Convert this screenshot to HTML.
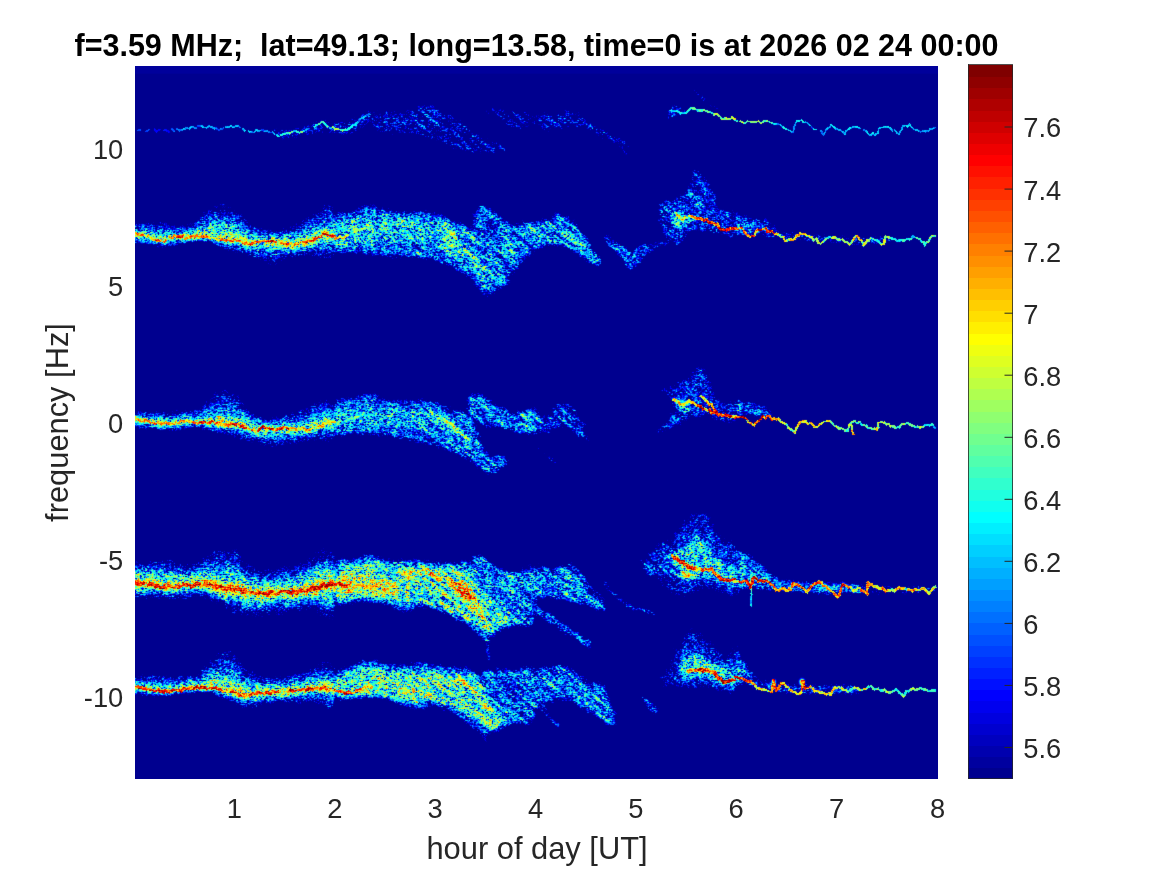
<!DOCTYPE html>
<html lang="en"><head><meta charset="utf-8"><title>Doppler spectrogram</title>
<style>
html,body{margin:0;padding:0;background:#fff;}
body{width:1167px;height:875px;overflow:hidden;position:relative;font-family:"Liberation Sans",Arial,Helvetica,sans-serif;}
svg{position:absolute;left:0;top:0;display:block;}
text{font-family:"Liberation Sans",Arial,Helvetica,sans-serif;}
.tk{font-size:27.3px;fill:#262626;}
.lb{font-size:30.85px;fill:#262626;}
.tt{font-size:30.5px;font-weight:bold;fill:#000;}
.l{mix-blend-mode:lighten;}
</style></head><body>
<svg width="1167" height="875" viewBox="0 0 1167 875">
<defs>
<filter id="b0_6" x="-5%" y="-5%" width="110%" height="110%" color-interpolation-filters="sRGB"><feGaussianBlur stdDeviation="0.6"/></filter>
<filter id="b1_0" x="-5%" y="-5%" width="110%" height="110%" color-interpolation-filters="sRGB"><feGaussianBlur stdDeviation="1.0"/></filter>
<filter id="b1_5" x="-5%" y="-5%" width="110%" height="110%" color-interpolation-filters="sRGB"><feGaussianBlur stdDeviation="1.5"/></filter>
<filter id="b1_8" x="-5%" y="-5%" width="110%" height="110%" color-interpolation-filters="sRGB"><feGaussianBlur stdDeviation="1.8"/></filter>
<filter id="b2_0" x="-5%" y="-5%" width="110%" height="110%" color-interpolation-filters="sRGB"><feGaussianBlur stdDeviation="2.0"/></filter>
<filter id="b2_5" x="-5%" y="-5%" width="110%" height="110%" color-interpolation-filters="sRGB"><feGaussianBlur stdDeviation="2.5"/></filter>
<filter id="b2_8" x="-5%" y="-5%" width="110%" height="110%" color-interpolation-filters="sRGB"><feGaussianBlur stdDeviation="2.8"/></filter>
<filter id="b3_0" x="-5%" y="-5%" width="110%" height="110%" color-interpolation-filters="sRGB"><feGaussianBlur stdDeviation="3.0"/></filter>
<filter id="spec" filterUnits="userSpaceOnUse" x="135" y="66" width="803" height="713" color-interpolation-filters="sRGB">
<feTurbulence type="fractalNoise" baseFrequency="1.5" numOctaves="1" seed="7" result="n0"/>
<feColorMatrix in="n0" type="matrix" values="1 0 0 0 0  1 0 0 0 0  1 0 0 0 0  0 0 0 0 1" result="n"/>
<feConvolveMatrix in="n" order="3" kernelMatrix="0.0187 0.0726 0.0187 0.1326 0.5148 0.1326 0.0187 0.0726 0.0187" edgeMode="duplicate" preserveAlpha="true" result="nb0"/>
<feComponentTransfer in="nb0" result="nb"><feFuncR type="linear" slope="1.8" intercept="-0.400"/><feFuncG type="linear" slope="1.8" intercept="-0.400"/><feFuncB type="linear" slope="1.8" intercept="-0.400"/></feComponentTransfer>
<feComponentTransfer in="nb" result="nm">
<feFuncR type="table" tableValues="0 0.07 0.264 0.443 0.579 0.693 0.771 0.85 0.911 0.95 0.97"/><feFuncG type="table" tableValues="0 0.07 0.264 0.443 0.579 0.693 0.771 0.85 0.911 0.95 0.97"/><feFuncB type="table" tableValues="0 0.07 0.264 0.443 0.579 0.693 0.771 0.85 0.911 0.95 0.97"/>
</feComponentTransfer>
<feColorMatrix in="SourceGraphic" type="matrix" values="1 0 0 0 0  1 0 0 0 0  1 0 0 0 0  0 0 0 0 1" result="d"/>
<feColorMatrix in="SourceGraphic" type="matrix" values="0 1 0 0 0  0 1 0 0 0  0 1 0 0 0  0 0 0 0 1" result="r"/>
<feColorMatrix in="SourceGraphic" type="matrix" values="0 0 1 0 0  0 0 1 0 0  0 0 1 0 0  0 0 0 0 1" result="m"/>
<feComposite in="d" in2="m" operator="arithmetic" k1="0" k2="0.600" k3="0.260" k4="0.070" result="dm"/>
<feComposite in="dm" in2="nm" operator="arithmetic" k1="0" k2="2.5" k3="1.45" k4="-2.035" result="td"/>
<feComposite in="r" in2="nb" operator="arithmetic" k1="1.1" k2="0.450" k3="0" k4="0" result="tr"/>
<feBlend in="td" in2="tr" mode="lighten" result="t"/>
<feComponentTransfer in="t" result="c">
<feFuncR type="discrete" tableValues="0.0000 0.0000 0.0000 0.0000 0.0000 0.0000 0.0000 0.0000 0.0000 0.0000 0.0000 0.0000 0.0000 0.0000 0.0000 0.0000 0.0000 0.0000 0.0000 0.0000 0.0000 0.0000 0.0000 0.0000 0.0625 0.1250 0.1875 0.2500 0.3125 0.3750 0.4375 0.5000 0.5625 0.6250 0.6875 0.7500 0.8125 0.8750 0.9375 1.0000 1.0000 1.0000 1.0000 1.0000 1.0000 1.0000 1.0000 1.0000 1.0000 1.0000 1.0000 1.0000 1.0000 1.0000 1.0000 1.0000 0.9375 0.8750 0.8125 0.7500 0.6875 0.6250 0.5625 0.5000"/>
<feFuncG type="discrete" tableValues="0.0000 0.0000 0.0000 0.0000 0.0000 0.0000 0.0000 0.0000 0.0625 0.1250 0.1875 0.2500 0.3125 0.3750 0.4375 0.5000 0.5625 0.6250 0.6875 0.7500 0.8125 0.8750 0.9375 1.0000 1.0000 1.0000 1.0000 1.0000 1.0000 1.0000 1.0000 1.0000 1.0000 1.0000 1.0000 1.0000 1.0000 1.0000 1.0000 1.0000 0.9375 0.8750 0.8125 0.7500 0.6875 0.6250 0.5625 0.5000 0.4375 0.3750 0.3125 0.2500 0.1875 0.1250 0.0625 0.0000 0.0000 0.0000 0.0000 0.0000 0.0000 0.0000 0.0000 0.0000"/>
<feFuncB type="discrete" tableValues="0.5625 0.6250 0.6875 0.7500 0.8125 0.8750 0.9375 1.0000 1.0000 1.0000 1.0000 1.0000 1.0000 1.0000 1.0000 1.0000 1.0000 1.0000 1.0000 1.0000 1.0000 1.0000 1.0000 1.0000 0.9375 0.8750 0.8125 0.7500 0.6875 0.6250 0.5625 0.5000 0.4375 0.3750 0.3125 0.2500 0.1875 0.1250 0.0625 0.0000 0.0000 0.0000 0.0000 0.0000 0.0000 0.0000 0.0000 0.0000 0.0000 0.0000 0.0000 0.0000 0.0000 0.0000 0.0000 0.0000 0.0000 0.0000 0.0000 0.0000 0.0000 0.0000 0.0000 0.0000"/>
</feComponentTransfer>
<feConvolveMatrix in="c" order="3" kernelMatrix="0.0081 0.0738 0.0081 0.0738 0.6724 0.0738 0.0081 0.0738 0.0081" edgeMode="duplicate" preserveAlpha="true"/>
</filter>
<filter id="mv" filterUnits="userSpaceOnUse" x="100" y="40" width="880" height="770" color-interpolation-filters="sRGB">
<feTurbulence type="fractalNoise" baseFrequency="0.17 0.06" numOctaves="2" seed="11"/>
<feColorMatrix type="matrix" values="0 0 0 0 0  0 0 0 0 0  0.5 0 0 0 0.25  0 0 0 0 1"/></filter>
<filter id="md" filterUnits="userSpaceOnUse" x="300" y="-600" width="450" height="1200" color-interpolation-filters="sRGB">
<feTurbulence type="fractalNoise" baseFrequency="0.05 0.2" numOctaves="2" seed="5"/>
<feColorMatrix type="matrix" values="0 0 0 0 0  0 0 0 0 0  1 0 0 0 0  0 0 0 0 1"/></filter>
<clipPath id="cd"><rect x="412" y="60" width="268" height="730"/></clipPath>
<clipPath id="pc"><rect x="135" y="66" width="803" height="713"/></clipPath>
</defs>
<rect width="1167" height="875" fill="#fff"/>
<g clip-path="url(#pc)"><g filter="url(#spec)">
<rect x="115" y="46" width="843" height="753" fill="#000"/>
<rect x="100" y="40" width="880" height="770" filter="url(#mv)"/>
<g clip-path="url(#cd)"><g transform="skewY(40)"><rect x="300" y="-600" width="450" height="1200" filter="url(#md)"/></g></g>
<g class="l" filter="url(#b3_0)" stroke="none">
<path class="l" d="M637.8 566.6C637.8 560.3 648.7 550.3 655 544.3C661.2 538.3 669.8 535.7 675.5 530.6C681.2 525.4 683.5 516.3 689.2 513.4C695 510.6 704.7 509.7 709.8 513.4C714.9 517.1 715.9 530.6 720.1 535.7C724.3 540.8 732.5 534.3 735 544.3C737.5 554.3 739.8 587.7 735 595.7C730.2 603.7 716.3 592.3 706.4 592.3C696.5 592.3 684.1 597.4 675.5 595.7C667 594 661.2 586.8 655 582C648.7 577.1 637.8 572.8 637.8 566.6Z" fill="#550000"/>
<path class="l" d="M658.4 680.1C657.8 674.4 668.1 663.6 672.1 656.1C676.1 648.7 679 640.7 682.4 635.6C685.8 630.4 688.7 625.3 692.7 625.3C696.7 625.3 701.2 631 706.4 635.6C711.5 640.1 718.7 650.4 723.5 652.7C728.3 655 733.1 642.4 735 649.3C736.9 656.1 739.8 687.3 735 693.8C730.2 700.4 716.3 689.3 706.4 688.7C696.5 688.1 683.5 691.8 675.5 690.4C667.5 689 659 685.8 658.4 680.1Z" fill="#550000"/>
</g>
<g class="l" filter="url(#b2_8)" stroke="none">
<path class="l" d="M335 216.6C337.9 210.6 346.4 214.8 352.1 213.1C357.9 211.4 363.6 206.6 369.3 206.3C375 206 380.7 210.3 386.4 211.4C392.1 212.6 397.3 212.8 403.6 213.1C409.8 213.4 417.8 212.6 424.1 213.1C430.4 213.7 436.1 214.8 441.3 216.6C446.4 218.3 450.4 221.4 455 223.4C459.5 225.4 464.4 224.8 468.7 228.6C473 232.3 475.8 240 480.7 245.7C485.5 251.4 493 257.7 497.8 262.8C502.7 268 511.2 271.4 509.8 276.5C508.4 281.7 494.7 292.5 489.2 293.7C483.8 294.8 481.2 286.8 477.2 283.4C473.2 280 470.4 276.5 465.2 273.1C460.1 269.7 452.4 265.4 446.4 262.8C440.4 260.3 436.4 258.8 429.3 257.7C422.1 256.5 412.1 256.5 403.6 256C395 255.4 386.4 255.1 377.8 254.3C369.3 253.4 359.3 251.7 352.1 250.8C345 250 337.9 254.8 335 249.1C332.1 243.4 332.1 222.6 335 216.6Z" fill="#7e0000" stroke="#7e0000" stroke-width="5" stroke-linejoin="round"/>
<path class="l" d="M335 223.4C339.3 219.1 352.1 220.8 360.7 220C369.3 219.1 376.4 218.6 386.4 218.3C396.4 218 410.7 217.4 420.7 218.3C430.7 219.1 439 219.7 446.4 223.4C453.8 227.1 460.4 235.1 465.2 240.5C470.1 246 472.1 251.1 475.5 256C479 260.8 486.4 267.4 485.8 269.7C485.2 272 477.2 272 472.1 269.7C467 267.4 460.7 260 455 256C449.3 252 445 248.5 437.8 245.7C430.7 242.8 420.7 239.7 412.1 238.8C403.6 238 395 239.7 386.4 240.5C377.8 241.4 369.3 243.1 360.7 244C352.1 244.8 339.3 249.1 335 245.7C330.7 242.3 330.7 227.7 335 223.4Z" fill="#920000" stroke="#920000" stroke-width="3" stroke-linejoin="round"/>
<path class="l" d="M477.2 209.7C479 206 480.7 205.1 484.1 206.3C487.5 207.4 492.7 213.4 497.8 216.6C503 219.7 508.8 224 514.9 225.1C521.1 226.3 531.7 219.4 535 223.4C538.3 227.4 536.9 243.1 535 249.1C533.1 255.1 526.9 256 523.5 259.4C520.2 262.8 518.9 266.3 514.9 269.7C510.9 273.1 503.8 276 499.5 280C495.2 284 492.4 291.7 489.2 293.7C486.1 295.7 483.5 297.1 480.7 292C477.8 286.8 474.1 272.8 472.1 262.8C470.1 252.8 468.4 237.7 468.7 232C469 226.3 472.4 232.3 473.8 228.6C475.2 224.8 475.5 213.4 477.2 209.7Z" fill="#810000" stroke="#810000" stroke-width="4" stroke-linejoin="round"/>
<path class="l" d="M535 223.4C537.3 218.3 544.4 220 548.7 218.3C553 216.6 555.9 212 560.7 213.1C565.6 214.3 573.6 221.1 577.8 225.1C582.1 229.1 583.6 232.8 586.4 237.1C589.3 241.4 592.1 246.5 595 250.8C597.8 255.1 603.6 260.3 603.6 262.8C603.6 265.4 598.4 266.8 595 266.3C591.6 265.7 587.3 262.3 583 259.4C578.7 256.5 574.4 251.4 569.3 249.1C564.1 246.8 557.9 245.7 552.1 245.7C546.4 245.7 537.9 252.8 535 249.1C532.1 245.4 532.7 228.6 535 223.4Z" fill="#880000"/>
<path class="l" d="M668.7 211.4C670.7 209.1 677.2 209.4 680.7 209.7C684.1 210 686.1 212.3 689.2 213.1C692.4 214 699.5 212.3 699.5 214.8C699.5 217.4 693.2 225.7 689.2 228.6C685.2 231.4 679 232.8 675.5 232C672.1 231.1 669.8 226.8 668.7 223.4C667.5 220 666.7 213.7 668.7 211.4Z" fill="#990000"/>
<path class="l" d="M735 211.4C737.3 208.3 743.6 215.4 748.7 216.6C753.9 217.7 761.3 216.6 765.8 218.3C770.4 220 775.6 224.3 776.1 226.8C776.7 229.4 773.3 232.3 769.3 233.7C765.3 235.1 757.9 235.1 752.1 235.4C746.4 235.7 737.9 239.4 735 235.4C732.1 231.4 732.7 214.6 735 211.4Z" fill="#770000"/>
<path class="l" d="M335 403.1C337.9 397.7 346.4 401.1 352.1 399.7C357.9 398.3 363.6 394.3 369.3 394.6C375 394.8 380.7 400.3 386.4 401.4C392.1 402.6 397.3 401.4 403.6 401.4C409.8 401.4 417.8 400.8 424.1 401.4C430.4 402 436.1 403.4 441.3 404.8C446.4 406.3 450.1 407.7 455 410C459.8 412.3 466.7 414.3 470.4 418.6C474.1 422.8 475 430 477.2 435.7C479.5 441.4 480.7 449.4 484.1 452.8C487.5 456.3 494.1 454.8 497.8 456.3C501.5 457.7 507.8 458.5 506.4 461.4C505 464.3 493.5 472.5 489.2 473.4C485 474.3 484.7 469.4 480.7 466.5C476.7 463.7 471 459.1 465.2 456.3C459.5 453.4 452.4 451.7 446.4 449.4C440.4 447.1 436.4 444.5 429.3 442.5C422.1 440.5 412.1 438.8 403.6 437.4C395 436 386.4 434.8 377.8 434C369.3 433.1 359.3 432.5 352.1 432.3C345 432 337.9 437.1 335 432.3C332.1 427.4 332.1 408.6 335 403.1Z" fill="#7a0000" stroke="#7a0000" stroke-width="5" stroke-linejoin="round"/>
<path class="l" d="M335 413.4C339.3 410.3 352.1 410.8 360.7 410C369.3 409.1 376.4 408.6 386.4 408.3C396.4 408 411.5 407.4 420.7 408.3C429.8 409.1 435 410.8 441.3 413.4C447.5 416 453.3 418.8 458.4 423.7C463.5 428.5 471 438.5 472.1 442.5C473.2 446.5 468.7 448 465.2 447.7C461.8 447.4 456.1 443.4 451.5 440.8C447 438.3 444.4 434.8 437.8 432.3C431.3 429.7 420.7 426.3 412.1 425.4C403.6 424.6 395 426.5 386.4 427.1C377.8 427.7 369.3 428.5 360.7 428.8C352.1 429.1 339.3 431.4 335 428.8C330.7 426.3 330.7 416.6 335 413.4Z" fill="#8d0000" stroke="#8d0000" stroke-width="3" stroke-linejoin="round"/>
<path class="l" d="M468.7 398C470.1 394.6 475.8 393.1 480.7 394.6C485.5 396 492.1 403.4 497.8 406.6C503.5 409.7 508.8 412.8 514.9 413.4C521.1 414 531.7 407.1 535 410C538.3 412.8 537.5 426.8 535 430.5C532.5 434.3 524.9 432.5 520.1 432.3C515.3 432 510.9 430 506.4 428.8C501.8 427.7 497 426.5 492.7 425.4C488.4 424.3 484.1 423.7 480.7 422C477.2 420.3 474.1 419.1 472.1 415.1C470.1 411.1 467.2 401.4 468.7 398Z" fill="#810000" stroke="#810000" stroke-width="4" stroke-linejoin="round"/>
<path class="l" d="M477.2 442.5C478.7 440.3 484.4 450 489.2 452.8C494.1 455.7 504.1 457.1 506.4 459.7C508.7 462.3 505.8 466 503 468.3C500.1 470.5 493 473.7 489.2 473.4C485.5 473.1 482.7 471.7 480.7 466.5C478.7 461.4 475.8 444.8 477.2 442.5Z" fill="#800000"/>
<path class="l" d="M535 411.7C536.7 408.6 541.3 416.8 545.3 415.1C549.3 413.4 554.4 402.6 559 401.4C563.6 400.3 568.4 404.8 572.7 408.3C577 411.7 582.1 416.8 584.7 422C587.3 427.1 589.3 436.5 588.1 439.1C587 441.7 581.6 439.4 577.8 437.4C574.1 435.4 570.1 428 565.8 427.1C561.6 426.3 557.3 431.1 552.1 432.3C547 433.4 537.9 437.4 535 434C532.1 430.5 533.3 414.8 535 411.7Z" fill="#6e0000"/>
<path class="l" d="M672.1 396.3C674.1 394.8 682.1 396.8 685.8 398C689.5 399.1 693.8 400.3 694.4 403.1C695 406 691.8 413.1 689.2 415.1C686.7 417.1 681.5 416.6 679 415.1C676.4 413.7 675 409.7 673.8 406.6C672.7 403.4 670.1 397.7 672.1 396.3Z" fill="#960000"/>
<path class="l" d="M735 399.7C737.3 397.1 743.6 400.3 748.7 401.4C753.9 402.6 761.6 404.3 765.8 406.6C770.1 408.8 774.4 413.1 774.4 415.1C774.4 417.1 770.1 418.3 765.8 418.6C761.6 418.8 753.9 417.1 748.7 416.8C743.6 416.6 737.3 419.7 735 416.8C732.7 414 732.7 402.3 735 399.7Z" fill="#770000"/>
<path class="l" d="M335 561.4C337.9 553.7 346.4 559.4 352.1 558C357.9 556.6 363.6 552.6 369.3 552.8C375 553.1 380.1 558.8 386.4 559.7C392.7 560.6 400.7 558 407 558C413.3 558 418.4 559.1 424.1 559.7C429.8 560.3 434.7 561.4 441.3 561.4C447.8 561.4 456.7 561.1 463.5 559.7C470.4 558.3 477.5 552.3 482.4 552.8C487.2 553.4 488.7 560.3 492.7 563.1C496.7 566 501.2 569.1 506.4 570C511.5 570.8 518.7 568.6 523.5 568.3C528.3 568 533.1 559.1 535 568.3C536.9 577.4 536.9 613.4 535 623.1C533.1 632.8 528.3 625.7 523.5 626.5C518.7 627.4 511.2 626.8 506.4 628.3C501.5 629.7 497.2 632.8 494.4 635.1C491.5 637.4 491.2 641.1 489.2 642C487.2 642.8 485.2 642.2 482.4 640.2C479.5 638.2 476.7 633.4 472.1 630C467.5 626.5 460.7 622.8 455 619.7C449.3 616.5 443.5 613.1 437.8 611.1C432.1 609.1 426.4 607.4 420.7 607.7C415 608 409.3 613.1 403.6 612.8C397.8 612.5 393.6 607.7 386.4 606C379.3 604.3 369.3 602.8 360.7 602.5C352.1 602.3 339.3 611.1 335 604.3C330.7 597.4 332.1 569.1 335 561.4Z" fill="#800000"/>
<path class="l" d="M335 570C339.3 564 352.1 564.3 360.7 563.1C369.3 562 377.8 562.8 386.4 563.1C395 563.4 403.6 564.3 412.1 564.8C420.7 565.4 429.3 565.7 437.8 566.6C446.4 567.4 457 567.7 463.5 570C470.1 572.3 473.5 576 477.2 580.3C481 584.6 482.1 590.5 485.8 595.7C489.5 600.8 495.5 607.1 499.5 611.1C503.5 615.1 510.4 616.8 509.8 619.7C509.2 622.5 500.7 626.5 496.1 628.3C491.5 630 487.5 631.7 482.4 630C477.2 628.3 471.2 621.1 465.2 618C459.3 614.8 452.4 613.4 446.4 611.1C440.4 608.8 436.4 605.7 429.3 604.3C422.1 602.8 412.1 603.4 403.6 602.5C395 601.7 386.4 600 377.8 599.1C369.3 598.3 359.3 597.4 352.1 597.4C345 597.4 337.9 603.7 335 599.1C332.1 594.5 330.7 576 335 570Z" fill="#a30000"/>
<path class="l" d="M335 576.8C338.4 574 348.4 576.3 355.6 576.8C362.7 577.4 370.4 579.1 377.8 580.3C385.3 581.4 398.7 581.1 400.1 583.7C401.6 586.3 393 594 386.4 595.7C379.8 597.4 369.3 594.3 360.7 594C352.1 593.7 339.3 596.8 335 594C330.7 591.1 331.6 579.7 335 576.8Z" fill="#be0000"/>
<path class="l" d="M492.7 566.6C495.5 563.1 499.3 570.6 506.4 571.7C513.4 572.8 530.2 565.4 535 573.4C539.8 581.4 538.3 611.4 535 619.7C531.7 628 520.9 624.8 514.9 623.1C509 621.4 503.8 614.5 499.5 609.4C495.2 604.3 490.4 599.4 489.2 592.3C488.1 585.1 489.8 570 492.7 566.6Z" fill="#830000"/>
<path class="l" d="M535 568.3C537.9 563.4 546.4 567.4 552.1 566.6C557.9 565.7 564.1 562 569.3 563.1C574.4 564.3 579.3 569.4 583 573.4C586.7 577.4 588.1 582.8 591.6 587.1C595 591.4 601 595.4 603.6 599.1C606.1 602.8 608.4 607.4 607 609.4C605.6 611.4 599 611.7 595 611.1C591 610.5 587.3 607.4 583 606C578.7 604.5 574.4 603.7 569.3 602.5C564.1 601.4 557.9 600.3 552.1 599.1C546.4 598 537.9 600.8 535 595.7C532.1 590.5 532.1 573.1 535 568.3Z" fill="#810000"/>
<path class="l" d="M672.1 554.6C673.5 549.4 681.5 547.4 685.8 544.3C690.1 541.1 693.8 535.1 697.8 535.7C701.8 536.3 705.5 543.4 709.8 547.7C714.1 552 719.3 558.3 723.5 561.4C727.7 564.6 733.1 562.6 735 566.6C736.9 570.6 737.5 582.8 735 585.4C732.5 588 725.4 583.1 720.1 582C714.7 580.8 708.1 578.6 703 578.6C697.8 578.6 693.5 582.6 689.2 582C685 581.4 680.1 579.7 677.2 575.1C674.4 570.6 670.7 559.7 672.1 554.6Z" fill="#960000"/>
<path class="l" d="M735 549.4C736.7 543.1 741.6 551.1 745.3 552.8C749 554.6 753.3 556.6 757.3 559.7C761.3 562.8 765.6 568.6 769.3 571.7C773 574.8 779.6 576.3 779.6 578.6C779.6 580.8 773.8 584 769.3 585.4C764.7 586.8 757.9 586.3 752.1 587.1C746.4 588 737.9 596.8 735 590.5C732.1 584.3 733.3 555.7 735 549.4Z" fill="#830000"/>
<path class="l" d="M335 671.6C337.9 665.8 346.4 667 352.1 664.7C357.9 662.4 363.6 658.1 369.3 657.8C375 657.6 380.1 662.1 386.4 663C392.7 663.8 400.7 663.3 407 663C413.3 662.7 418.4 661 424.1 661.3C429.8 661.6 434.7 663.8 441.3 664.7C447.8 665.6 457 665.3 463.5 666.4C470.1 667.6 475 671.3 480.7 671.6C486.4 671.8 492.1 668.4 497.8 668.1C503.5 667.8 508.8 669.8 514.9 669.8C521.1 669.8 531.7 659.6 535 668.1C538.3 676.7 536.9 711.8 535 721.3C533.1 730.7 528.3 723.5 523.5 724.7C518.7 725.8 511.5 726.4 506.4 728.1C501.2 729.8 495.8 732.7 492.7 735C489.5 737.3 489.5 741.8 487.5 741.8C485.5 741.8 483.2 737.5 480.7 735C478.1 732.4 476.4 729.5 472.1 726.4C467.8 723.3 460.7 719.3 455 716.1C449.3 713 443.5 708.4 437.8 707.5C432.1 706.7 426.4 711 420.7 711C415 711 409.3 709.3 403.6 707.5C397.8 705.8 393.6 702.1 386.4 700.7C379.3 699.3 369.3 699.3 360.7 699C352.1 698.7 339.3 703.5 335 699C330.7 694.4 332.1 677.3 335 671.6Z" fill="#7a0000"/>
<path class="l" d="M335 680.1C339.3 675.6 352.1 669.8 360.7 668.1C369.3 666.4 377.8 669.6 386.4 669.8C395 670.1 403.6 669.6 412.1 669.8C420.7 670.1 429.3 670.7 437.8 671.6C446.4 672.4 456.4 673 463.5 675C470.7 677 476.4 679.8 480.7 683.6C485 687.3 486.1 692.7 489.2 697.3C492.4 701.8 496.7 707 499.5 711C502.4 715 507.2 718.4 506.4 721.3C505.5 724.1 498.4 727.3 494.4 728.1C490.4 729 487.2 728.7 482.4 726.4C477.5 724.1 471.2 717.5 465.2 714.4C459.3 711.3 452.4 709.8 446.4 707.5C440.4 705.3 436.4 701.8 429.3 700.7C422.1 699.5 412.1 701.5 403.6 700.7C395 699.8 386.4 696.1 377.8 695.5C369.3 695 359.3 697.3 352.1 697.3C345 697.3 337.9 698.4 335 695.5C332.1 692.7 330.7 684.7 335 680.1Z" fill="#a30000"/>
<path class="l" d="M535 671.6C537.9 664.4 546.4 665.6 552.1 664.7C557.9 663.8 563.6 664.1 569.3 666.4C575 668.7 580.7 675.6 586.4 678.4C592.1 681.3 599.6 679.8 603.6 683.6C607.6 687.3 608.1 694.4 610.4 700.7C612.7 707 617.8 717 617.3 721.3C616.7 725.5 610.7 727 607 726.4C603.3 725.8 599.8 721 595 717.8C590.1 714.7 583.6 710.4 577.8 707.5C572.1 704.7 566.1 701.3 560.7 700.7C555.3 700.1 549.6 703 545.3 704.1C541 705.3 536.7 713 535 707.5C533.3 702.1 532.1 678.7 535 671.6Z" fill="#800000"/>
<path class="l" d="M677.2 666.4C677.8 662.1 685.5 658.4 689.2 656.1C693 653.8 695.2 651.6 699.5 652.7C703.8 653.8 709 660.7 714.9 663C720.9 665.3 731.7 662.4 735 666.4C738.3 670.4 737.5 683.8 735 687C732.5 690.1 725.4 686.7 720.1 685.3C714.7 683.8 708.7 679 703 678.4C697.2 677.8 690.1 683.8 685.8 681.8C681.5 679.8 676.7 670.7 677.2 666.4Z" fill="#990000"/>
<path class="l" d="M735 645.8C736.1 641 739.6 651 741.9 654.4C744.1 657.8 746.1 662.7 748.7 666.4C751.3 670.1 757.3 674.1 757.3 676.7C757.3 679.3 752.4 680.7 748.7 681.8C745 683 737.3 689.6 735 683.6C732.7 677.6 733.9 650.7 735 645.8Z" fill="#800000"/>
</g>
<g class="l" filter="url(#b2_5)" stroke="none">
<path class="l" d="M369.3 112.3C375 110 394.4 110.3 403.6 108.8C412.7 107.4 415.5 102.6 424.1 103.7C432.7 104.8 445.5 110.6 455 115.7C464.4 120.8 471.5 129.4 480.7 134.6C489.8 139.7 505.5 143.7 509.8 146.5C514.1 149.4 513.2 150.5 506.4 151.7C499.5 152.8 480.1 155.1 468.7 153.4C457.3 151.7 448.7 144.5 437.8 141.4C427 138.3 413.5 135.7 403.6 134.6C393.6 133.4 383.6 136.6 377.8 134.6C372.1 132.6 370.7 126.3 369.3 122.6C367.8 118.8 363.6 114.6 369.3 112.3Z" fill="#5e0000"/>
<path class="l" d="M480.7 107.1C482.1 105.7 497.3 107.4 506.4 108.8C515.4 110.3 530.2 113.4 535 115.7C539.8 118 538.3 120 535 122.6C531.7 125.1 521.1 132 514.9 131.1C508.8 130.3 503.5 121.4 497.8 117.4C492.1 113.4 479.2 108.6 480.7 107.1Z" fill="#580000"/>
<path class="l" d="M535 115.7C538.4 112.8 548.7 111.7 555.6 110.6C562.4 109.4 570.1 106.8 576.1 108.8C582.1 110.8 585.6 118.8 591.6 122.6C597.6 126.3 606.4 128 612.1 131.1C617.8 134.3 623 137.1 625.8 141.4C628.7 145.7 630.7 156 629.3 156.8C627.8 157.7 622.1 150 617.3 146.5C612.4 143.1 606.7 139.4 600.1 136.3C593.6 133.1 585.8 128.6 577.8 127.7C569.8 126.8 559.3 131.1 552.1 131.1C545 131.1 537.9 130.3 535 127.7C532.1 125.1 531.6 118.6 535 115.7Z" fill="#5c0000"/>
<path class="l" d="M658.4 202.8C660.4 197.7 667 200.6 672.1 197.7C677.2 194.8 685.8 190.6 689.2 185.7C692.7 180.9 689.8 170 692.7 168.6C695.5 167.1 702.7 172.9 706.4 177.1C710.1 181.4 712.1 189.1 714.9 194.3C717.8 199.4 720.2 205.1 723.5 208C726.9 210.8 733.1 206.3 735 211.4C736.9 216.6 737.5 234.8 735 238.8C732.5 242.8 724.9 236.5 720.1 235.4C715.3 234.3 711.5 232 706.4 232C701.2 232 693.5 233.1 689.2 235.4C685 237.7 684.1 244 680.7 245.7C677.2 247.4 672.1 248.5 668.7 245.7C665.2 242.8 661.8 235.7 660.1 228.6C658.4 221.4 656.4 208 658.4 202.8Z" fill="#6d0000"/>
<path class="l" d="M658.4 387.7C658.4 384.8 667 386.3 672.1 384.3C677.2 382.3 684.7 379.1 689.2 375.7C693.8 372.3 696.1 363.7 699.5 363.7C703 363.7 707.2 370.9 709.8 375.7C712.4 380.6 712.7 388.6 714.9 392.8C717.2 397.1 720.2 400 723.5 401.4C726.9 402.8 733.1 397.7 735 401.4C736.9 405.1 737.5 420.3 735 423.7C732.5 427.1 724.9 423.1 720.1 422C715.3 420.8 711.5 417.4 706.4 416.8C701.2 416.3 693.5 417.1 689.2 418.6C685 420 684.1 423.7 680.7 425.4C677.2 427.1 672.4 427.1 668.7 428.8C665 430.5 660.7 435.4 658.4 435.7C656.1 436 653.3 433.4 655 430.5C656.7 427.7 665.8 423.4 668.7 418.6C671.5 413.7 673.8 406.6 672.1 401.4C670.4 396.3 658.4 390.6 658.4 387.7Z" fill="#6b0000"/>
<path class="l" d="M655 549.4C658.7 544.6 664.4 547.1 668.7 544.3C673 541.4 676.7 536.6 680.7 532.3C684.7 528 688.4 521.1 692.7 518.6C697 516 702.7 514.9 706.4 516.9C710.1 518.9 712.1 526 714.9 530.6C717.8 535.1 720.2 541.1 723.5 544.3C726.9 547.4 733.1 541.4 735 549.4C736.9 557.4 736.9 585.4 735 592.3C733.1 599.1 727.7 592 723.5 590.5C719.3 589.1 715.5 583.7 709.8 583.7C704.1 583.7 695.5 589.4 689.2 590.5C683 591.7 676.4 593.1 672.1 590.5C667.8 588 667.8 578 663.5 575.1C659.3 572.3 647.8 577.7 646.4 573.4C645 569.1 651.3 554.3 655 549.4Z" fill="#6d0000"/>
<path class="l" d="M668.7 669.8C671 665 674.4 662.1 677.2 657.8C680.1 653.6 683.8 648.4 685.8 644.1C687.8 639.9 687 633 689.2 632.1C691.5 631.3 696.1 636.1 699.5 639C703 641.8 705.8 645.8 709.8 649.3C713.8 652.7 719.3 658.4 723.5 659.6C727.7 660.7 733.1 651.3 735 656.1C736.9 661 736.9 683.3 735 688.7C733.1 694.1 728.3 689.6 723.5 688.7C718.7 687.8 712.1 684.1 706.4 683.6C700.7 683 694.4 685.3 689.2 685.3C684.1 685.3 679.8 683.3 675.5 683.6C671.2 683.8 664.7 689.3 663.5 687C662.4 684.7 666.4 674.7 668.7 669.8Z" fill="#6d0000"/>
</g>
<g class="l" filter="url(#b2_0)" stroke="none">
<path class="l" d="M769.3 233.7C775 234.3 792.1 236.1 803.6 237.1C815 238.1 823.5 239.1 837.8 239.7C852.1 240.3 880.7 240.4 889.2 240.5" fill="none" stroke="#5f0000" stroke-width="10" stroke-linecap="round"/>
<path class="l" d="M760.7 583.7C767.8 584.3 787.8 586.3 803.6 587.1C819.3 588 846.4 588.5 855 588.8" fill="none" stroke="#7e0000" stroke-width="13" stroke-linecap="round"/>
<path class="l" d="M855 588.8C860.7 589 875.9 589.7 889.2 589.7C902.6 589.7 927.4 589 935 588.8" fill="none" stroke="#550000" stroke-width="10" stroke-linecap="round"/>
<path class="l" d="M752.1 683.6C757.9 684.4 769.3 687.7 786.4 688.7C803.6 689.7 843.5 689.4 855 689.6" fill="none" stroke="#690000" stroke-width="12" stroke-linecap="round"/>
</g>
<g class="l" filter="url(#b1_8)" stroke="none">
<path class="l" d="M444.7 580.3C445.8 578.6 453.8 579.1 458.4 580.3C463 581.4 469.2 584 472.1 587.1C475 590.3 477.2 597.1 475.5 599.1C473.8 601.1 465.8 600.5 461.8 599.1C457.8 597.7 454.4 593.7 451.5 590.5C448.7 587.4 443.5 582 444.7 580.3Z" fill="#d40000"/>
</g>
<g class="l" filter="url(#b1_5)" stroke="none">
<path class="l" d="M268.7 129.4C270.1 127.4 283 128.6 289.2 127.7C295.5 126.8 300.7 125.7 306.4 124.3C312.1 122.8 318.7 119.4 323.5 119.1C328.3 118.8 333.1 120.3 335 122.6C336.9 124.8 339.8 130.6 335 132.8C330.2 135.1 315.4 135.1 306.4 136.3C297.3 137.4 287 140.8 280.7 139.7C274.4 138.6 267.2 131.4 268.7 129.4Z" fill="#550000"/>
<path class="l" d="M335 122.6C337.9 119.7 346.4 119.4 352.1 117.4C357.9 115.4 366.4 109.7 369.3 110.6C372.1 111.4 372.1 118.6 369.3 122.6C366.4 126.6 357.9 132.6 352.1 134.6C346.4 136.6 337.9 136.6 335 134.6C332.1 132.6 332.1 125.4 335 122.6Z" fill="#5e0000"/>
<path class="l" d="M670.4 105.4C673.5 103.1 682.7 107.4 685.8 108.8C689 110.3 691.5 112.6 689.2 114C687 115.4 675.8 116 672.1 117.4C668.4 118.8 667.2 124.6 667 122.6C666.7 120.6 667.2 107.7 670.4 105.4Z" fill="#660000"/>
<path class="l" d="M692.7 88.3C694.7 90.3 700.7 96.8 704.7 100.3C708.7 103.7 714.7 107.4 716.7 108.8" fill="none" stroke="#550000" stroke-width="5" stroke-linecap="round"/>
<path class="l" d="M129 222.1 L145.3 221 L155.6 220.2 L164.1 221.3 L174.4 224.2 L184.7 223.8 L195 217.9 L207 206.9 L215.5 201.9 L225.8 201 L237.8 205.8 L248.1 219.9 L256.7 225.2 L267 228.5 L275.5 228.9 L285.8 225.8 L292.7 223.4 L303 219.5 L311.5 212.9 L316.7 209.9 L325.2 202.9 L335 205.5 L335 261.7 L325.2 260.4 L316.7 258.6 L311.5 257 L303 258.3 L292.7 258.2 L285.8 260 L275.5 266.3 L267 264.6 L256.7 260 L248.1 256 L237.8 253.9 L225.8 250.7 L215.5 248.2 L207 242.9 L195 243 L184.7 244.6 L174.4 247 L164.1 248.6 L155.6 248.5 L145.3 247 L129 244.9Z" fill="#4e0000"/>
<path class="l" d="M129 224.6 L145.3 224.5 L155.6 224.7 L164.1 225.7 L174.4 227 L184.7 226.8 L195 222.3 L207 213.6 L215.5 210.5 L225.8 210.1 L237.8 213.8 L248.1 225.5 L256.7 229.3 L267 231.3 L275.5 232 L285.8 230 L292.7 228.4 L303 224.8 L311.5 219.6 L316.7 216.4 L325.2 210 L335 212.6 L335 255.8 L325.2 254.3 L316.7 253.8 L311.5 253.6 L303 254.6 L292.7 255.1 L285.8 256.3 L275.5 260.8 L267 259.1 L256.7 256.1 L248.1 253.2 L237.8 250.8 L225.8 248.4 L215.5 246 L207 241.4 L195 241.6 L184.7 242.9 L174.4 244.5 L164.1 246.7 L155.6 246.5 L145.3 244.5 L129 242.1Z" fill="#660000"/>
<path class="l" d="M129 226.3 L145.3 226.9 L155.6 227.7 L164.1 228.7 L174.4 228.9 L184.7 228.9 L195 225.3 L207 218.2 L215.5 216.1 L225.8 216.2 L237.8 219.2 L248.1 229.2 L256.7 232.1 L267 233.1 L275.5 234 L285.8 232.8 L292.7 231.7 L303 228.3 L311.5 224.2 L316.7 220.7 L325.2 214.8 L335 217.3 L335 251.9 L325.2 250.1 L316.7 250.6 L311.5 251.3 L303 252.1 L292.7 253.1 L285.8 253.8 L275.5 257.1 L267 255.4 L256.7 253.5 L248.1 251.4 L237.8 248.8 L225.8 246.8 L215.5 244.6 L207 240.4 L195 240.7 L184.7 241.7 L174.4 242.8 L164.1 245.5 L155.6 245.1 L145.3 242.8 L129 240.2Z" fill="#7c0000"/>
<path class="l" d="M129 228.3 L145.3 229.8 L155.6 231.4 L164.1 232.4 L174.4 231.2 L184.7 231.5 L195 229 L207 223.8 L215.5 223.2 L225.8 223.8 L237.8 225.8 L248.1 233.8 L256.7 235.5 L267 235.5 L275.5 236.6 L285.8 236.3 L292.7 235.8 L303 232.6 L311.5 229.8 L316.7 226.1 L325.2 220.7 L335 223.3 L335 247 L325.2 245 L316.7 246.7 L311.5 248.5 L303 249 L292.7 250.5 L285.8 250.8 L275.5 252.4 L267 250.7 L256.7 250.2 L248.1 249.1 L237.8 246.2 L225.8 244.8 L215.5 242.8 L207 239.1 L195 239.6 L184.7 240.3 L174.4 240.8 L164.1 243.9 L155.6 243.4 L145.3 240.8 L129 237.9Z" fill="#920000"/>
<path class="l" d="M129 230.4 L145.3 232.7 L155.6 235.2 L164.1 236.1 L174.4 233.5 L184.7 234 L195 232.7 L207 229.5 L215.5 230.3 L225.8 231.4 L237.8 232.5 L248.1 238.4 L256.7 239 L267 237.8 L275.5 239.2 L285.8 239.8 L292.7 239.9 L303 237 L311.5 235.5 L316.7 231.5 L325.2 226.6 L335 229.2 L335 242.1 L325.2 239.9 L316.7 242.7 L311.5 245.7 L303 246 L292.7 247.9 L285.8 247.7 L275.5 247.8 L267 246.1 L256.7 247 L248.1 246.8 L237.8 243.6 L225.8 242.9 L215.5 241 L207 237.8 L195 238.5 L184.7 238.8 L174.4 238.7 L164.1 242.4 L155.6 241.7 L145.3 238.7 L129 235.6Z" fill="#a50000"/>
<path class="l" d="M129 230.8 L145.3 233.9 L155.6 236.9 L164.1 237.8 L174.4 234.2 L184.7 234.9 L195 234.3 L207 232.5 L215.5 234.4 L225.8 235.9 L237.8 236.3 L248.1 240.8 L256.7 240.5 L267 238.4 L275.5 240 L285.8 241.3 L292.7 241.9 L303 239.2 L311.5 238.5 L316.7 234.4 L325.2 229.9 L335 232.4 L335 239.6 L325.2 237.2 L316.7 240.9 L311.5 244.6 L303 244.7 L292.7 247.1 L285.8 246.5 L275.5 245.5 L267 243.8 L256.7 245.7 L248.1 246.1 L237.8 242.8 L225.8 242.5 L215.5 240.7 L207 237.9 L195 238.7 L184.7 238.8 L174.4 238.3 L164.1 242.3 L155.6 241.5 L145.3 238.3 L129 234.9Z" fill="#b80000"/>
<path class="l" d="M441.3 226.8C445.3 231.1 456.4 244.5 465.2 252.5C474.1 260.5 489.5 271.1 494.4 274.8" fill="none" stroke="#a70000" stroke-width="5" stroke-linecap="round"/>
<path class="l" d="M352.1 228.6C356.4 228 369.3 226 377.8 225.1C386.4 224.3 395 223.4 403.6 223.4C412.1 223.4 425 224.8 429.3 225.1" fill="none" stroke="#9c0000" stroke-width="6" stroke-linecap="round"/>
<path class="l" d="M576.1 242.3C577.8 244 582.7 249.4 586.4 252.5C590.1 255.7 596.4 259.7 598.4 261.1" fill="none" stroke="#960000" stroke-width="5" stroke-linecap="round"/>
<path class="l" d="M600.1 228.6C601.3 228 606.4 232.6 610.4 235.4C614.4 238.3 620.1 242.3 624.1 245.7C628.1 249.1 632.1 252.5 634.4 256C636.7 259.4 638.7 264 637.8 266.3C637 268.5 632.1 270.8 629.3 269.7C626.4 268.5 623.8 262.8 620.7 259.4C617.5 256 613.3 252.5 610.4 249.1C607.6 245.7 605.3 242.3 603.6 238.8C601.8 235.4 599 229.1 600.1 228.6Z" fill="#770000"/>
<path class="l" d="M631 252.5C632.1 248.8 637.3 245.7 641.3 244C645.3 242.3 651 242.8 655 242.3C659 241.7 662.4 240.3 665.2 240.5C668.1 240.8 673.8 242.3 672.1 244C670.4 245.7 659.5 248.3 655 250.8C650.4 253.4 648.1 256.8 644.7 259.4C641.3 262 636.7 267.4 634.4 266.3C632.1 265.1 629.8 256.3 631 252.5Z" fill="#6e0000"/>
<path class="l" d="M689.2 189.1C690.7 191.4 695 199.1 697.8 202.8C700.7 206.6 705 210 706.4 211.4" fill="none" stroke="#880000" stroke-width="4" stroke-linecap="round"/>
<path class="l" d="M129 409.2 L145.3 409.6 L155.6 409.5 L165.8 409.3 L176.1 410.3 L186.4 409.9 L196.7 408.1 L207 397.4 L215.5 389.4 L225.8 388.5 L237.8 392.5 L246.4 405.3 L255 412 L265.2 415.9 L275.5 415.5 L285.8 413.3 L296.1 410.1 L306.4 407 L314.9 400.4 L323.5 397 L335 400.6 L335 443.4 L323.5 442.4 L314.9 441.8 L306.4 441.7 L296.1 444.9 L285.8 446.7 L275.5 448.9 L265.2 448 L255 444.1 L246.4 442.7 L237.8 440.6 L225.8 436.6 L215.5 434.9 L207 430.9 L196.7 429.5 L186.4 430 L176.1 432.2 L165.8 432.6 L155.6 431.7 L145.3 430.4 L129 429.2Z" fill="#4b0000"/>
<path class="l" d="M129 411.4 L145.3 412 L155.6 412.6 L165.8 412.8 L176.1 413.2 L186.4 412.7 L196.7 411.5 L207 403.3 L215.5 397.1 L225.8 396.8 L237.8 399.9 L246.4 410.5 L255 416.2 L265.2 418.7 L275.5 418.6 L285.8 416.7 L296.1 414.4 L306.4 412.2 L314.9 406.6 L323.5 403.1 L335 405.5 L335 438.4 L323.5 438.1 L314.9 438.4 L306.4 438.9 L296.1 441.2 L285.8 442.4 L275.5 444.3 L265.2 443.4 L255 440.9 L246.4 439.3 L237.8 436.9 L225.8 433.8 L215.5 432.1 L207 429 L196.7 428 L186.4 428.1 L176.1 430 L165.8 430.7 L155.6 429.6 L145.3 428.1 L129 426.8Z" fill="#630000"/>
<path class="l" d="M129 412.8 L145.3 413.7 L155.6 414.6 L165.8 415.2 L176.1 415.1 L186.4 414.6 L196.7 413.8 L207 407.2 L215.5 402.3 L225.8 402.3 L237.8 404.8 L246.4 414 L255 419 L265.2 420.6 L275.5 420.6 L285.8 418.9 L296.1 417.3 L306.4 415.7 L314.9 410.7 L323.5 407.2 L335 408.8 L335 435.1 L323.5 435.2 L314.9 436.2 L306.4 437.1 L296.1 438.7 L285.8 439.5 L275.5 441.2 L265.2 440.3 L255 438.8 L246.4 437 L237.8 434.4 L225.8 432 L215.5 430.2 L207 427.8 L196.7 426.9 L186.4 426.9 L176.1 428.6 L165.8 429.5 L155.6 428.3 L145.3 426.5 L129 425.1Z" fill="#790000"/>
<path class="l" d="M129 414.6 L145.3 415.7 L155.6 417.2 L165.8 418.1 L176.1 417.5 L186.4 416.9 L196.7 416.6 L207 412.1 L215.5 408.7 L225.8 409.3 L237.8 411 L246.4 418.4 L255 422.5 L265.2 422.9 L275.5 423.2 L285.8 421.8 L296.1 420.9 L306.4 420.1 L314.9 415.8 L323.5 412.4 L335 412.9 L335 431 L323.5 431.6 L314.9 433.3 L306.4 434.8 L296.1 435.6 L285.8 435.9 L275.5 437.3 L265.2 436.5 L255 436.1 L246.4 434.2 L237.8 431.3 L225.8 429.6 L215.5 427.9 L207 426.2 L196.7 425.7 L186.4 425.4 L176.1 426.8 L165.8 427.9 L155.6 426.6 L145.3 424.6 L129 423.1Z" fill="#8f0000"/>
<path class="l" d="M129 416.4 L145.3 417.8 L155.6 419.8 L165.8 421 L176.1 419.9 L186.4 419.2 L196.7 419.4 L207 417 L215.5 415.1 L225.8 416.2 L237.8 417.1 L246.4 422.7 L255 426 L265.2 425.2 L275.5 425.7 L285.8 424.6 L296.1 424.5 L306.4 424.4 L314.9 421 L323.5 417.5 L335 417 L335 426.9 L323.5 428 L314.9 430.5 L306.4 432.5 L296.1 432.5 L285.8 432.3 L275.5 433.5 L265.2 432.6 L255 433.4 L246.4 431.4 L237.8 428.3 L225.8 427.3 L215.5 425.6 L207 424.7 L196.7 424.4 L186.4 423.8 L176.1 425 L165.8 426.4 L155.6 424.9 L145.3 422.6 L129 421Z" fill="#a20000"/>
<path class="l" d="M129 416.7 L145.3 418.3 L155.6 420.6 L165.8 422.1 L176.1 420.7 L186.4 419.9 L196.7 420.5 L207 419.5 L215.5 418.8 L225.8 420.2 L237.8 420.6 L246.4 424.9 L255 427.5 L265.2 425.9 L275.5 426.6 L285.8 425.6 L296.1 426.1 L306.4 426.6 L314.9 423.7 L323.5 420.2 L335 419 L335 425 L323.5 426.4 L314.9 429.5 L306.4 431.8 L296.1 431.3 L285.8 430.7 L275.5 431.7 L265.2 430.8 L255 432.5 L246.4 430.3 L237.8 427 L225.8 426.7 L215.5 424.9 L207 424.6 L196.7 424.5 L186.4 423.7 L176.1 424.7 L165.8 426.3 L155.6 424.7 L145.3 422.2 L129 420.5Z" fill="#b30000"/>
<path class="l" d="M437.8 416.8C440.7 419.1 449.8 426.5 455 430.5C460.1 434.5 466.4 439.1 468.7 440.8" fill="none" stroke="#aa0000" stroke-width="5" stroke-linecap="round"/>
<path class="l" d="M352.1 418.6C356.4 418 369.3 416 377.8 415.1C386.4 414.3 393.6 413.1 403.6 413.4C413.5 413.7 432.1 416.3 437.8 416.8" fill="none" stroke="#960000" stroke-width="5" stroke-linecap="round"/>
<path class="l" d="M468.7 440.8C470.7 443.4 477.2 452 480.7 456.3C484.1 460.5 487.8 464.8 489.2 466.5" fill="none" stroke="#800000" stroke-width="6" stroke-linecap="round"/>
<path class="l" d="M538.4 447.7 L557.3 464.8" fill="none" stroke="#500000" stroke-width="5" stroke-linecap="round"/>
<path class="l" d="M129 559.6 L145.3 559.2 L155.6 559.7 L165.8 555.3 L176.1 560.5 L186.4 562.1 L196.7 561.3 L207 553.9 L215.5 548.3 L225.8 549.6 L236.1 548 L244.7 560.6 L255 567.2 L265.2 568.6 L275.5 567.8 L285.8 565.3 L296.1 563 L306.4 558.7 L314.9 552.4 L323.5 546.2 L335 551.5 L335 622.5 L323.5 617.3 L314.9 613.7 L306.4 612.6 L296.1 612 L285.8 614.3 L275.5 616.8 L265.2 616.4 L255 617.4 L244.7 616.9 L236.1 615.4 L225.8 609.7 L215.5 604.6 L207 600.5 L196.7 599.3 L186.4 600.1 L176.1 599.7 L165.8 600.6 L155.6 600.1 L145.3 599.6 L129 598.8Z" fill="#520000"/>
<path class="l" d="M129 564.9 L145.3 564.8 L155.6 565.6 L165.8 562.6 L176.1 566.5 L186.4 567.5 L196.7 566.6 L207 561 L215.5 557 L225.8 558.7 L236.1 557.6 L244.7 567.8 L255 573.3 L265.2 574.3 L275.5 573.4 L285.8 571.5 L296.1 569.7 L306.4 566 L314.9 560.6 L323.5 555.2 L335 559.1 L335 613.8 L323.5 609.9 L314.9 607.8 L306.4 607.5 L296.1 607.4 L285.8 609.2 L275.5 611.1 L265.2 611 L255 611.9 L244.7 611.1 L236.1 609.5 L225.8 604.9 L215.5 600.4 L207 596.8 L196.7 595.9 L186.4 596.7 L176.1 596.6 L165.8 597.5 L155.6 596.7 L145.3 595.9 L129 595.1Z" fill="#690000"/>
<path class="l" d="M129 568.5 L145.3 568.6 L155.6 569.6 L165.8 567.5 L176.1 570.4 L186.4 571.1 L196.7 570.2 L207 565.7 L215.5 562.9 L225.8 564.7 L236.1 564.1 L244.7 572.6 L255 577.3 L265.2 578 L275.5 577.2 L285.8 575.7 L296.1 574.1 L306.4 570.9 L314.9 566.1 L323.5 561.3 L335 564.2 L335 607.9 L323.5 605 L314.9 603.8 L306.4 604.1 L296.1 604.3 L285.8 605.8 L275.5 607.3 L265.2 607.4 L255 608.3 L244.7 607.3 L236.1 605.5 L225.8 601.7 L215.5 597.6 L207 594.4 L196.7 593.6 L186.4 594.5 L176.1 594.6 L165.8 595.4 L155.6 594.5 L145.3 593.5 L129 592.6Z" fill="#830000"/>
<path class="l" d="M129 573 L145.3 573.3 L155.6 574.5 L165.8 573.6 L176.1 575.4 L186.4 575.6 L196.7 574.7 L207 571.6 L215.5 570.2 L225.8 572.2 L236.1 572.1 L244.7 578.6 L255 582.4 L265.2 582.8 L275.5 581.9 L285.8 580.9 L296.1 579.7 L306.4 577.1 L314.9 572.9 L323.5 568.8 L335 570.6 L335 600.6 L323.5 598.9 L314.9 598.9 L306.4 599.9 L296.1 600.4 L285.8 601.6 L275.5 602.6 L265.2 603 L255 603.7 L244.7 602.5 L236.1 600.6 L225.8 597.6 L215.5 594 L207 591.3 L196.7 590.8 L186.4 591.6 L176.1 592 L165.8 592.8 L155.6 591.6 L145.3 590.4 L129 589.6Z" fill="#9c0000"/>
<path class="l" d="M129 577.5 L145.3 578 L155.6 579.5 L165.8 579.8 L176.1 580.3 L186.4 580 L196.7 579.2 L207 577.5 L215.5 577.5 L225.8 579.8 L236.1 580.1 L244.7 584.7 L255 587.5 L265.2 587.5 L275.5 586.6 L285.8 586 L296.1 585.2 L306.4 583.2 L314.9 579.8 L323.5 576.4 L335 576.9 L335 593.3 L323.5 592.8 L314.9 593.9 L306.4 595.6 L296.1 596.6 L285.8 597.4 L275.5 597.9 L265.2 598.5 L255 599.1 L244.7 597.7 L236.1 595.6 L225.8 593.6 L215.5 590.5 L207 588.2 L196.7 587.9 L186.4 588.8 L176.1 589.4 L165.8 590.2 L155.6 588.8 L145.3 587.4 L129 586.5Z" fill="#b40000"/>
<path class="l" d="M129 579.7 L145.3 580.4 L155.6 582 L165.8 583.2 L176.1 582.9 L186.4 582.3 L196.7 581.4 L207 580.7 L215.5 581.8 L225.8 584.2 L236.1 584.8 L244.7 588 L255 590.2 L265.2 589.9 L275.5 589 L285.8 588.8 L296.1 588.3 L306.4 586.6 L314.9 583.7 L323.5 580.8 L335 580.5 L335 589.1 L323.5 589.3 L314.9 591.4 L306.4 593.6 L296.1 594.8 L285.8 595.3 L275.5 595.5 L265.2 596.3 L255 596.8 L244.7 595.2 L236.1 593.1 L225.8 591.8 L215.5 589 L207 587 L196.7 586.9 L186.4 587.8 L176.1 588.5 L165.8 589.4 L155.6 587.8 L145.3 586.2 L129 585.3Z" fill="#c90000"/>
<path class="l" d="M400.1 575.1C403.6 574.8 413.8 573.1 420.7 573.4C427.5 573.7 435.5 574.6 441.3 576.8C447 579.1 449.8 583.4 455 587.1C460.1 590.8 467 593.7 472.1 599.1C477.2 604.5 483.5 616.3 485.8 619.7" fill="none" stroke="#bb0000" stroke-width="6" stroke-linecap="round"/>
<path class="l" d="M535 609.4C537.9 611.1 546.4 615.7 552.1 619.7C557.9 623.7 563.6 629.4 569.3 633.4C575 637.4 583.6 642 586.4 643.7" fill="none" stroke="#740000" stroke-width="8" stroke-linecap="round"/>
<path class="l" d="M603.6 583.7C605.6 585.7 611.3 592 615.5 595.7C619.8 599.4 622.7 603.1 629.3 606C635.8 608.8 650.7 611.7 655 612.8" fill="none" stroke="#6e0000" stroke-width="5" stroke-linecap="round"/>
<path class="l" d="M684.1 563.1C686.1 561.4 692.1 561.7 694.4 563.1C696.7 564.6 698.7 568.8 697.8 571.7C697 574.6 691.8 580 689.2 580.3C686.7 580.6 683.2 576.3 682.4 573.4C681.5 570.6 682.1 564.8 684.1 563.1Z" fill="#bb0000"/>
<path class="l" d="M129 672.6 L145.3 674 L155.6 674.5 L165.8 674.1 L176.1 674.5 L186.4 674 L196.7 671.9 L207 662.1 L215.5 651.9 L225.8 650 L236.1 647.6 L243 664.1 L255 671.8 L265.2 674.6 L275.5 675 L285.8 674.1 L296.1 672 L306.4 668.7 L314.9 664.2 L323.5 659.7 L335 661.4 L335 712.8 L323.5 706.2 L314.9 704.6 L306.4 705.5 L296.1 705.1 L285.8 703.5 L275.5 704.4 L265.2 705.2 L255 708.5 L243 710.6 L236.1 706.5 L225.8 700.2 L215.5 697.3 L207 694 L196.7 694 L186.4 694.8 L176.1 696.5 L165.8 697.4 L155.6 697.8 L145.3 697.3 L129 695.9Z" fill="#4e0000"/>
<path class="l" d="M129 675.8 L145.3 677.4 L155.6 678.2 L165.8 678.1 L176.1 678.2 L186.4 677.4 L196.7 675.6 L207 668 L215.5 660.4 L225.8 659.3 L236.1 658.1 L243 671.1 L255 676.9 L265.2 678.8 L275.5 678.9 L285.8 678.1 L296.1 676.3 L306.4 673.5 L314.9 669.8 L323.5 666.2 L335 667.9 L335 707.5 L323.5 702 L314.9 700.9 L306.4 701.8 L296.1 701.7 L285.8 700.7 L275.5 701.5 L265.2 702.4 L255 705.1 L243 706.9 L236.1 703.3 L225.8 697.9 L215.5 695.3 L207 692.5 L196.7 692.5 L186.4 693.4 L176.1 695.1 L165.8 696 L155.6 696.1 L145.3 695.3 L129 693.7Z" fill="#640000"/>
<path class="l" d="M129 677.8 L145.3 679.6 L155.6 680.6 L165.8 680.7 L176.1 680.6 L186.4 679.6 L196.7 678 L207 672 L215.5 666.1 L225.8 665.5 L236.1 665.1 L243 675.8 L255 680.3 L265.2 681.7 L275.5 681.6 L285.8 680.7 L296.1 679.1 L306.4 676.7 L314.9 673.6 L323.5 670.5 L335 672.2 L335 703.9 L323.5 699.1 L314.9 698.5 L306.4 699.4 L296.1 699.5 L285.8 698.8 L275.5 699.7 L265.2 700.5 L255 702.9 L243 704.5 L236.1 701.3 L225.8 696.4 L215.5 694 L207 691.6 L196.7 691.6 L186.4 692.5 L176.1 694.2 L165.8 695 L155.6 694.9 L145.3 694 L129 692.2Z" fill="#7e0000"/>
<path class="l" d="M129 680.4 L145.3 682.5 L155.6 683.7 L165.8 684 L176.1 683.7 L186.4 682.5 L196.7 681.1 L207 676.9 L215.5 673.1 L225.8 673.3 L236.1 673.8 L243 681.7 L255 684.5 L265.2 685.2 L275.5 684.9 L285.8 684 L296.1 682.6 L306.4 680.7 L314.9 678.3 L323.5 675.9 L335 677.6 L335 699.4 L323.5 695.6 L314.9 695.4 L306.4 696.3 L296.1 696.6 L285.8 696.4 L275.5 697.3 L265.2 698.2 L255 700.1 L243 701.4 L236.1 698.7 L225.8 694.6 L215.5 692.3 L207 690.4 L196.7 690.4 L186.4 691.3 L176.1 693 L165.8 693.9 L155.6 693.5 L145.3 692.3 L129 690.3Z" fill="#960000"/>
<path class="l" d="M129 683 L145.3 685.3 L155.6 686.7 L165.8 687.3 L176.1 686.7 L186.4 685.3 L196.7 684.2 L207 681.9 L215.5 680.2 L225.8 681.1 L236.1 682.5 L243 687.6 L255 688.7 L265.2 688.7 L275.5 688.2 L285.8 687.3 L296.1 686.2 L306.4 684.7 L314.9 683 L323.5 681.3 L335 683 L335 694.9 L323.5 692.1 L314.9 692.4 L306.4 693.2 L296.1 693.8 L285.8 694.1 L275.5 694.9 L265.2 695.8 L255 697.2 L243 698.4 L236.1 696.1 L225.8 692.7 L215.5 690.7 L207 689.3 L196.7 689.3 L186.4 690.1 L176.1 691.8 L165.8 692.7 L155.6 692.1 L145.3 690.7 L129 688.4Z" fill="#aa0000"/>
<path class="l" d="M129 683.9 L145.3 686.3 L155.6 687.9 L165.8 688.7 L176.1 687.9 L186.4 686.3 L196.7 685.4 L207 684.5 L215.5 684.3 L225.8 685.7 L236.1 687.8 L243 690.9 L255 690.8 L265.2 690.3 L275.5 689.5 L285.8 688.7 L296.1 687.7 L306.4 686.6 L314.9 685.4 L323.5 684.2 L335 685.9 L335 692.7 L323.5 690.5 L314.9 691.2 L306.4 692 L296.1 692.8 L285.8 693.4 L275.5 694.3 L265.2 695.1 L255 696.2 L243 697.2 L236.1 695.2 L225.8 692.3 L215.5 690.5 L207 689.4 L196.7 689.4 L186.4 690.3 L176.1 692 L165.8 692.8 L155.6 692.1 L145.3 690.5 L129 688Z" fill="#bb0000"/>
<path class="l" d="M455 680.1C457.8 681.3 468.4 684.4 472.1 687C475.8 689.6 476.4 694.1 477.2 695.5" fill="none" stroke="#b80000" stroke-width="6" stroke-linecap="round"/>
<path class="l" d="M395 687C398.7 688.1 411.3 692.4 417.3 693.8C423.3 695.3 428.7 695.3 431 695.5" fill="none" stroke="#b30000" stroke-width="6" stroke-linecap="round"/>
<path class="l" d="M485.8 632.1C486.1 634.4 487 641.3 487.5 645.8C488.1 650.4 489 657.3 489.2 659.6" fill="none" stroke="#770000" stroke-width="5" stroke-linecap="round"/>
<path class="l" d="M535 697.3C536.7 699.5 541.6 706.4 545.3 711C549 715.5 555.3 722.4 557.3 724.7" fill="none" stroke="#6e0000" stroke-width="6" stroke-linecap="round"/>
<path class="l" d="M545.3 615C547.9 616.7 555.3 621.6 560.7 625.3C566.1 629 573.3 634.1 577.8 637.3C582.4 640.4 586.4 643 588.1 644.1" fill="none" stroke="#770000" stroke-width="9" stroke-linecap="round"/>
<path class="l" d="M641.3 695.5C642.4 694.7 648.4 697.8 651.5 700.7C654.7 703.5 659.8 710.4 660.1 712.7C660.4 715 655.8 715.5 653.3 714.4C650.7 713.3 646.7 709 644.7 705.8C642.7 702.7 640.1 696.4 641.3 695.5Z" fill="#6e0000"/>
</g>
<g class="l"><g filter="url(#b1_0)" fill="none" stroke-linecap="square" shape-rendering="crispEdges">
<ellipse class="l" cx="688.8" cy="566.8" rx="3.5" ry="3" fill="#00f200" stroke="none"/>
<ellipse class="l" cx="689" cy="575" rx="3" ry="3" fill="#00bf00" stroke="none"/>
<ellipse class="l" cx="701.7" cy="669.7" rx="4" ry="2.5" fill="#00f200" stroke="none"/>
<ellipse class="l" cx="773.7" cy="684" rx="1.8" ry="4" fill="#00e600" stroke="none"/>
<ellipse class="l" cx="802" cy="682" rx="1.8" ry="3.5" fill="#00e600" stroke="none"/>
</g></g>
<g class="l"><g filter="url(#b0_6)" fill="none" stroke-linecap="square" shape-rendering="crispEdges">
<path class="l" d="M137.8 130.5L140.6 129.8" stroke="#002e00" stroke-width="1.8"/>
<path class="l" d="M146.2 131.3L149 129.7" stroke="#002f00" stroke-width="1.8"/>
<path class="l" d="M154.6 129.4L156.6 131.9" stroke="#001f00" stroke-width="1.8"/>
<path class="l" d="M156.6 131.9L159.7 129.4" stroke="#001d00" stroke-width="1.5"/>
<path class="l" d="M164.3 130L166.3 130.4" stroke="#002100" stroke-width="1.6"/>
<path class="l" d="M166.3 130.4L169.1 131.8" stroke="#001900" stroke-width="2.1"/>
<path class="l" d="M172 129.3L174 131.2" stroke="#003400" stroke-width="2.2"/>
<path class="l" d="M177.2 129.2L179.3 130.4" stroke="#003d00" stroke-width="1.9"/>
<path class="l" d="M179.3 130.4L182.3 129.8" stroke="#003b00" stroke-width="1.8"/>
<path class="l" d="M182.3 129.8L184.4 128.9" stroke="#004400" stroke-width="2"/>
<path class="l" d="M184.4 128.9L186.8 128" stroke="#004600" stroke-width="2"/>
<path class="l" d="M186.8 128L189.3 128.7" stroke="#002f00" stroke-width="1.7"/>
<path class="l" d="M189.3 128.7L191.3 126.5" stroke="#004b00" stroke-width="1.7"/>
<path class="l" d="M191.3 126.5L194.3 127.6" stroke="#004500" stroke-width="1.7"/>
<path class="l" d="M194.3 127.6L196.4 128.3" stroke="#003d00" stroke-width="1.8"/>
<path class="l" d="M198.5 125.9L201.5 125.8" stroke="#003200" stroke-width="2.2"/>
<path class="l" d="M201.5 125.8L203.2 127.1" stroke="#004900" stroke-width="1.9"/>
<path class="l" d="M203.2 127.1L206.7 127.9" stroke="#005200" stroke-width="1.5"/>
<path class="l" d="M206.7 127.9L209 126.3" stroke="#004300" stroke-width="1.7"/>
<path class="l" d="M209 126.3L211.8 127.3" stroke="#004500" stroke-width="1.9"/>
<path class="l" d="M211.8 127.3L214.1 128.3" stroke="#004600" stroke-width="2.2"/>
<path class="l" d="M214.1 128.3L216.1 128.4" stroke="#003d00" stroke-width="1.6"/>
<path class="l" d="M216.1 128.4L218.9 130.1" stroke="#002900" stroke-width="2"/>
<path class="l" d="M220.9 129.1L223.2 128.5" stroke="#003400" stroke-width="1.9"/>
<path class="l" d="M225.8 127.2L228.1 127.1" stroke="#004400" stroke-width="1.6"/>
<path class="l" d="M228.1 127.1L231.1 126.4" stroke="#005200" stroke-width="1.7"/>
<path class="l" d="M231.1 126.4L233.2 127" stroke="#005000" stroke-width="1.9"/>
<path class="l" d="M233.2 127L235.8 126.1" stroke="#003d00" stroke-width="1.9"/>
<path class="l" d="M235.8 126.1L238 125.7" stroke="#004c00" stroke-width="1.6"/>
<path class="l" d="M238 125.7L239.8 127.3" stroke="#003d00" stroke-width="1.8"/>
<path class="l" d="M242.8 128.9L244.5 130.7" stroke="#004c00" stroke-width="1.8"/>
<path class="l" d="M248.9 131.4L251.5 132.4" stroke="#005000" stroke-width="1.7"/>
<path class="l" d="M251.5 132.4L254.3 132.5" stroke="#004300" stroke-width="1.9"/>
<path class="l" d="M254.3 132.5L256.4 130.4" stroke="#004800" stroke-width="1.5"/>
<path class="l" d="M256.4 130.4L259.5 130.7" stroke="#004500" stroke-width="2"/>
<path class="l" d="M262.2 129.8L265 131.1" stroke="#002b00" stroke-width="2"/>
<path class="l" d="M265 131.1L267.2 131" stroke="#004600" stroke-width="1.6"/>
<path class="l" d="M267.2 131L270.1 132.6" stroke="#004700" stroke-width="1.6"/>
<path class="l" d="M270.1 132.6L272.7 132.5" stroke="#003300" stroke-width="1.6"/>
<path class="l" d="M272.7 132.5L274.6 134.1" stroke="#004900" stroke-width="1.7"/>
<path class="l" d="M277 135.1L278.9 136.5" stroke="#005800" stroke-width="1.9"/>
<path class="l" d="M281.3 135L283.8 134.2" stroke="#006300" stroke-width="2.1"/>
<path class="l" d="M283.8 134.2L287 133.4" stroke="#006b00" stroke-width="1.9"/>
<path class="l" d="M287 133.4L289.3 133.4" stroke="#006400" stroke-width="1.9"/>
<path class="l" d="M289.3 133.4L292 132" stroke="#007000" stroke-width="2.2"/>
<path class="l" d="M294.2 131.2L296.9 131.6" stroke="#005200" stroke-width="2"/>
<path class="l" d="M296.9 131.6L299.6 132.7" stroke="#006600" stroke-width="2"/>
<path class="l" d="M299.6 132.7L302.2 131.8" stroke="#006d00" stroke-width="1.8"/>
<path class="l" d="M302.2 131.8L304.8 130.6" stroke="#005500" stroke-width="2"/>
<path class="l" d="M304.8 130.6L306.9 129.4" stroke="#004700" stroke-width="2"/>
<path class="l" d="M314.4 126.9L316.5 124.9" stroke="#005e00" stroke-width="1.8"/>
<path class="l" d="M316.5 124.9L319.3 124.1" stroke="#006400" stroke-width="1.8"/>
<path class="l" d="M319.3 124.1L321.4 122.5" stroke="#006900" stroke-width="1.5"/>
<path class="l" d="M321.4 122.5L323.1 122.2" stroke="#006500" stroke-width="1.6"/>
<path class="l" d="M323.1 122.2L325.9 124.8" stroke="#005e00" stroke-width="2.1"/>
<path class="l" d="M325.9 124.8L327.8 126.4" stroke="#006600" stroke-width="2.1"/>
<path class="l" d="M330.3 127.8L333 127.4" stroke="#004d00" stroke-width="1.8"/>
<path class="l" d="M333 127.4L335 129.4" stroke="#008300" stroke-width="2.2"/>
<path class="l" d="M335 129.4L337.4 128.8" stroke="#008a00" stroke-width="2"/>
<path class="l" d="M337.4 128.8L340.4 129.8" stroke="#007b00" stroke-width="1.8"/>
<path class="l" d="M340.4 129.8L342.8 130.5" stroke="#006000" stroke-width="1.8"/>
<path class="l" d="M342.8 130.5L345 129.8" stroke="#007400" stroke-width="2.2"/>
<path class="l" d="M345 129.8L347.1 130.2" stroke="#006500" stroke-width="1.7"/>
<path class="l" d="M347.1 130.2L349.5 128.2" stroke="#006600" stroke-width="2.2"/>
<path class="l" d="M349.5 128.2L351.7 126.7" stroke="#006100" stroke-width="2.4"/>
<path class="l" d="M351.7 126.7L353.2 125.1" stroke="#006100" stroke-width="1.6"/>
<path class="l" d="M353.2 125.1L355.7 124.9" stroke="#005300" stroke-width="2.3"/>
<path class="l" d="M355.7 124.9L357.7 122.6" stroke="#005400" stroke-width="2.2"/>
<path class="l" d="M357.7 122.6L359.8 119.5" stroke="#003800" stroke-width="2.3"/>
<path class="l" d="M359.8 119.5L362.1 117.9" stroke="#004b00" stroke-width="1.6"/>
<path class="l" d="M362.1 117.9L363.6 117.4" stroke="#004800" stroke-width="1.9"/>
<path class="l" d="M363.6 117.4L365.5 115.8" stroke="#005200" stroke-width="1.6"/>
<path class="l" d="M365.5 115.8L369.3 114" stroke="#003900" stroke-width="2.2"/>
<path class="l" d="M672.1 110.6L674.9 110.7" stroke="#005000" stroke-width="2.2"/>
<path class="l" d="M674.9 110.7L677.8 111.6" stroke="#005e00" stroke-width="1.7"/>
<path class="l" d="M677.8 111.6L680.5 113.4" stroke="#005500" stroke-width="2.3"/>
<path class="l" d="M680.5 113.4L683 112.8" stroke="#005900" stroke-width="2.2"/>
<path class="l" d="M683 112.8L686.2 112.8" stroke="#005900" stroke-width="1.8"/>
<path class="l" d="M686.2 112.8L687.3 111.8" stroke="#006000" stroke-width="1.9"/>
<path class="l" d="M687.3 111.8L689.1 110.1" stroke="#006000" stroke-width="2.5"/>
<path class="l" d="M689.1 110.1L690.9 108.2" stroke="#006900" stroke-width="2"/>
<path class="l" d="M690.9 108.2L693.6 108.3" stroke="#007300" stroke-width="2.5"/>
<path class="l" d="M693.6 108.3L695.7 109.3" stroke="#007700" stroke-width="2"/>
<path class="l" d="M695.7 109.3L698.4 110.5" stroke="#004900" stroke-width="1.9"/>
<path class="l" d="M698.4 110.5L701.4 110.6" stroke="#006f00" stroke-width="2.5"/>
<path class="l" d="M701.4 110.6L703.9 110.1" stroke="#006100" stroke-width="2.4"/>
<path class="l" d="M703.9 110.1L706.2 111.2" stroke="#007700" stroke-width="1.8"/>
<path class="l" d="M706.2 111.2L709.1 111.8" stroke="#007300" stroke-width="2.2"/>
<path class="l" d="M709.1 111.8L711.4 112.6" stroke="#006600" stroke-width="1.7"/>
<path class="l" d="M711.4 112.6L713.9 114.3" stroke="#005300" stroke-width="1.8"/>
<path class="l" d="M713.9 114.3L716.8 114.1" stroke="#008000" stroke-width="2.5"/>
<path class="l" d="M716.8 114.1L718.1 115.3" stroke="#005300" stroke-width="2"/>
<path class="l" d="M718.1 115.3L720.2 116.7" stroke="#007900" stroke-width="1.9"/>
<path class="l" d="M720.2 116.7L721.9 119.4" stroke="#006600" stroke-width="1.6"/>
<path class="l" d="M721.9 119.4L724.8 118.4" stroke="#008600" stroke-width="1.7"/>
<path class="l" d="M724.8 118.4L727.3 118.8" stroke="#008c00" stroke-width="2.5"/>
<path class="l" d="M727.3 118.8L729.5 119.2" stroke="#006600" stroke-width="1.9"/>
<path class="l" d="M729.5 119.2L732.1 117.8" stroke="#007300" stroke-width="2"/>
<path class="l" d="M732.1 117.8L735 119.1" stroke="#008c00" stroke-width="2.3"/>
<path class="l" d="M735 120.5L737.3 120.8" stroke="#006500" stroke-width="1.7"/>
<path class="l" d="M740.4 121.1L743 122.4" stroke="#007e00" stroke-width="1.9"/>
<path class="l" d="M743 122.4L745.2 123.2" stroke="#004c00" stroke-width="1.7"/>
<path class="l" d="M745.2 123.2L747.6 121.3" stroke="#006f00" stroke-width="1.7"/>
<path class="l" d="M747.6 121.3L750.8 121.8" stroke="#006c00" stroke-width="1.6"/>
<path class="l" d="M750.8 121.8L753.2 122" stroke="#007500" stroke-width="1.8"/>
<path class="l" d="M753.2 122L755.9 122" stroke="#007e00" stroke-width="1.4"/>
<path class="l" d="M755.9 122L758.2 121.1" stroke="#007300" stroke-width="1.5"/>
<path class="l" d="M758.2 121.1L761.3 123.1" stroke="#008600" stroke-width="1.8"/>
<path class="l" d="M761.3 123.1L764.3 120.9" stroke="#008000" stroke-width="1.9"/>
<path class="l" d="M764.3 120.9L767.1 120.8" stroke="#007500" stroke-width="1.6"/>
<path class="l" d="M767.1 120.8L769.5 122" stroke="#004a00" stroke-width="1.7"/>
<path class="l" d="M769.5 122L771.8 123" stroke="#007200" stroke-width="1.3"/>
<path class="l" d="M771.8 123L774.2 123.8" stroke="#005e00" stroke-width="1.6"/>
<path class="l" d="M774.2 123.8L776.2 124.1" stroke="#005900" stroke-width="1.9"/>
<path class="l" d="M776.2 124.1L778.5 124" stroke="#003a00" stroke-width="2"/>
<path class="l" d="M780.8 125L782.9 126.8" stroke="#005000" stroke-width="1.4"/>
<path class="l" d="M782.9 126.8L785.9 129.2" stroke="#005c00" stroke-width="1.9"/>
<path class="l" d="M785.9 129.2L788.3 129.8" stroke="#004400" stroke-width="1.6"/>
<path class="l" d="M788.3 129.8L791.1 131.4" stroke="#005100" stroke-width="1.6"/>
<path class="l" d="M791.1 131.4L793.1 132.4" stroke="#003e00" stroke-width="1.7"/>
<path class="l" d="M793.1 132.4L793.8 128.5" stroke="#003e00" stroke-width="1.8"/>
<path class="l" d="M793.8 128.5L794.7 125.2" stroke="#004900" stroke-width="2"/>
<path class="l" d="M794.7 125.2L796 122.3" stroke="#004c00" stroke-width="1.5"/>
<path class="l" d="M796 122.3L797 121.3" stroke="#005300" stroke-width="1.6"/>
<path class="l" d="M797 121.3L798.7 121.1" stroke="#005500" stroke-width="1.8"/>
<path class="l" d="M798.7 121.1L801.6 120.1" stroke="#005e00" stroke-width="1.4"/>
<path class="l" d="M801.6 120.1L803.5 122.3" stroke="#005e00" stroke-width="1.8"/>
<path class="l" d="M803.5 122.3L805.5 122.2" stroke="#004600" stroke-width="1.3"/>
<path class="l" d="M805.5 122.2L807.5 123.1" stroke="#004400" stroke-width="1.5"/>
<path class="l" d="M807.5 123.1L809.8 125.1" stroke="#005300" stroke-width="1.8"/>
<path class="l" d="M811.7 127.3L813.8 129.1" stroke="#003300" stroke-width="1.6"/>
<path class="l" d="M813.8 129.1L816.4 129.4" stroke="#005400" stroke-width="1.3"/>
<path class="l" d="M821.1 130.9L823.3 134.8" stroke="#003d00" stroke-width="1.9"/>
<path class="l" d="M823.3 134.8L824.7 133.1" stroke="#003e00" stroke-width="1.7"/>
<path class="l" d="M824.7 133.1L826.1 130.2" stroke="#004000" stroke-width="1.7"/>
<path class="l" d="M826.1 130.2L827.5 128.1" stroke="#004200" stroke-width="2"/>
<path class="l" d="M827.5 128.1L829.7 127.2" stroke="#003800" stroke-width="1.7"/>
<path class="l" d="M829.7 127.2L830.9 125" stroke="#005400" stroke-width="1.6"/>
<path class="l" d="M830.9 125L833 126.3" stroke="#005700" stroke-width="1.7"/>
<path class="l" d="M833 126.3L835.8 128.9" stroke="#005300" stroke-width="1.8"/>
<path class="l" d="M835.8 128.9L837.8 129.5" stroke="#003300" stroke-width="1.6"/>
<path class="l" d="M837.8 129.5L840 129.8" stroke="#005000" stroke-width="1.9"/>
<path class="l" d="M840 129.8L842.6 131.8" stroke="#004500" stroke-width="1.7"/>
<path class="l" d="M842.6 131.8L844.9 134.1" stroke="#003d00" stroke-width="1.9"/>
<path class="l" d="M844.9 134.1L846.2 130.4" stroke="#004a00" stroke-width="1.7"/>
<path class="l" d="M846.2 130.4L848.8 129.4" stroke="#005500" stroke-width="1.3"/>
<path class="l" d="M848.8 129.4L850.4 127.9" stroke="#005900" stroke-width="1.9"/>
<path class="l" d="M850.4 127.9L852.7 127.4" stroke="#003900" stroke-width="1.9"/>
<path class="l" d="M852.7 127.4L854.6 126.8" stroke="#004600" stroke-width="1.4"/>
<path class="l" d="M854.6 126.8L857 127.2" stroke="#005000" stroke-width="1.4"/>
<path class="l" d="M857 127.2L859.6 128.5" stroke="#005100" stroke-width="1.8"/>
<path class="l" d="M863.8 130L865.9 130.6" stroke="#003d00" stroke-width="1.6"/>
<path class="l" d="M865.9 130.6L868 133.6" stroke="#005400" stroke-width="1.7"/>
<path class="l" d="M868 133.6L870.7 135.3" stroke="#005000" stroke-width="1.4"/>
<path class="l" d="M870.7 135.3L872.6 132.9" stroke="#005300" stroke-width="1.9"/>
<path class="l" d="M872.6 132.9L874.7 135.1" stroke="#005b00" stroke-width="1.5"/>
<path class="l" d="M874.7 135.1L877.5 133.3" stroke="#005700" stroke-width="1.8"/>
<path class="l" d="M877.5 133.3L878.4 130.8" stroke="#006100" stroke-width="1.6"/>
<path class="l" d="M878.4 130.8L879.1 128.3" stroke="#004f00" stroke-width="1.3"/>
<path class="l" d="M879.1 128.3L881.7 127.4" stroke="#004e00" stroke-width="1.5"/>
<path class="l" d="M881.7 127.4L884.4 127.3" stroke="#005900" stroke-width="1.7"/>
<path class="l" d="M884.4 127.3L887.8 126.9" stroke="#005500" stroke-width="1.8"/>
<path class="l" d="M887.8 126.9L890 127.8" stroke="#004c00" stroke-width="2"/>
<path class="l" d="M890 127.8L892.4 130.6" stroke="#004c00" stroke-width="1.8"/>
<path class="l" d="M894.7 130.1L896.9 132.8" stroke="#004c00" stroke-width="1.6"/>
<path class="l" d="M896.9 132.8L899.3 134" stroke="#004500" stroke-width="1.5"/>
<path class="l" d="M899.3 134L900.4 131.4" stroke="#004c00" stroke-width="1.8"/>
<path class="l" d="M900.4 131.4L902.1 129.2" stroke="#004900" stroke-width="1.6"/>
<path class="l" d="M902.1 129.2L902.7 125.7" stroke="#004c00" stroke-width="1.8"/>
<path class="l" d="M902.7 125.7L905.6 125.5" stroke="#004c00" stroke-width="1.9"/>
<path class="l" d="M907.3 126.9L909.8 124.1" stroke="#005400" stroke-width="1.8"/>
<path class="l" d="M909.8 124.1L911.5 127" stroke="#005400" stroke-width="1.3"/>
<path class="l" d="M911.5 127L913.5 129.2" stroke="#004900" stroke-width="1.8"/>
<path class="l" d="M913.5 129.2L915.8 130" stroke="#004c00" stroke-width="1.4"/>
<path class="l" d="M915.8 130L918.1 130.5" stroke="#005400" stroke-width="1.9"/>
<path class="l" d="M918.1 130.5L920.3 131.8" stroke="#003d00" stroke-width="2"/>
<path class="l" d="M922.6 131.2L926 131.4" stroke="#004500" stroke-width="1.9"/>
<path class="l" d="M926 131.4L928.5 130.7" stroke="#003200" stroke-width="2"/>
<path class="l" d="M928.5 130.7L930.6 129.2" stroke="#004500" stroke-width="1.5"/>
<path class="l" d="M930.6 129.2L933.1 128.6" stroke="#004c00" stroke-width="1.9"/>
<path class="l" d="M933.1 128.6L935 127.7" stroke="#003d00" stroke-width="1.8"/>
<path class="l" d="M135 232.8L137.4 234.1" stroke="#009b00" stroke-width="2.6"/>
<path class="l" d="M137.4 234.1L140.1 235" stroke="#00ae00" stroke-width="2.7"/>
<path class="l" d="M140.1 235L143 235" stroke="#00b100" stroke-width="2.7"/>
<path class="l" d="M143 235L145.5 236.3" stroke="#00a400" stroke-width="1.9"/>
<path class="l" d="M145.5 236.3L148 235.6" stroke="#00a000" stroke-width="1.9"/>
<path class="l" d="M148 235.6L150.3 237.5" stroke="#00af00" stroke-width="2.1"/>
<path class="l" d="M150.3 237.5L152.9 239.9" stroke="#00a400" stroke-width="2.5"/>
<path class="l" d="M152.9 239.9L155.7 240.1" stroke="#00b300" stroke-width="2"/>
<path class="l" d="M155.7 240.1L158.8 240.8" stroke="#00c900" stroke-width="2.4"/>
<path class="l" d="M158.8 240.8L161.2 240.3" stroke="#00d200" stroke-width="2.1"/>
<path class="l" d="M161.2 240.3L164.1 241.9" stroke="#007c00" stroke-width="1.8"/>
<path class="l" d="M164.1 241.9L166.3 239.8" stroke="#00ca00" stroke-width="2"/>
<path class="l" d="M166.3 239.8L169.4 238.1" stroke="#007f00" stroke-width="2.2"/>
<path class="l" d="M169.4 238.1L172.1 238.1" stroke="#00c700" stroke-width="1.8"/>
<path class="l" d="M172.1 238.1L174.2 235.7" stroke="#00b600" stroke-width="2.7"/>
<path class="l" d="M174.2 235.7L177.1 236.4" stroke="#00a200" stroke-width="2.5"/>
<path class="l" d="M177.1 236.4L179.6 236.5" stroke="#00d100" stroke-width="2.3"/>
<path class="l" d="M179.6 236.5L182.2 236.6" stroke="#00c400" stroke-width="2.7"/>
<path class="l" d="M182.2 236.6L184.8 238.9" stroke="#007d00" stroke-width="2.1"/>
<path class="l" d="M184.8 238.9L187.6 237.9" stroke="#00b600" stroke-width="2.6"/>
<path class="l" d="M187.6 237.9L190.1 237.3" stroke="#00bf00" stroke-width="2.7"/>
<path class="l" d="M190.1 237.3L192.7 236.3" stroke="#00b600" stroke-width="2.4"/>
<path class="l" d="M192.7 236.3L194.7 237" stroke="#007c00" stroke-width="2.3"/>
<path class="l" d="M194.7 237L197 234.9" stroke="#00c900" stroke-width="1.9"/>
<path class="l" d="M197 234.9L199.9 237.2" stroke="#00ac00" stroke-width="2.1"/>
<path class="l" d="M199.9 237.2L202.2 236.5" stroke="#007c00" stroke-width="2.5"/>
<path class="l" d="M202.2 236.5L204.9 236.4" stroke="#00c900" stroke-width="2.5"/>
<path class="l" d="M204.9 236.4L207.2 236.8" stroke="#00b600" stroke-width="2.4"/>
<path class="l" d="M207.2 236.8L210.1 238.1" stroke="#00b400" stroke-width="2.6"/>
<path class="l" d="M210.1 238.1L212.3 237.6" stroke="#007800" stroke-width="2.2"/>
<path class="l" d="M212.3 237.6L215.8 238.6" stroke="#00ac00" stroke-width="2.1"/>
<path class="l" d="M215.8 238.6L218.3 240.2" stroke="#00a200" stroke-width="2.7"/>
<path class="l" d="M218.3 240.2L221.1 239.3" stroke="#009300" stroke-width="1.8"/>
<path class="l" d="M221.1 239.3L223.3 240" stroke="#00c400" stroke-width="2.7"/>
<path class="l" d="M223.3 240L225.9 240.6" stroke="#00be00" stroke-width="2.7"/>
<path class="l" d="M225.9 240.6L228.3 240.1" stroke="#00ab00" stroke-width="1.9"/>
<path class="l" d="M228.3 240.1L230.3 240.7" stroke="#00b200" stroke-width="2.5"/>
<path class="l" d="M230.3 240.7L233.1 240.5" stroke="#00cb00" stroke-width="2.2"/>
<path class="l" d="M233.1 240.5L235.2 240.4" stroke="#00c900" stroke-width="2.1"/>
<path class="l" d="M235.2 240.4L237.6 241.3" stroke="#007500" stroke-width="2.7"/>
<path class="l" d="M237.6 241.3L240.2 241.1" stroke="#00b400" stroke-width="2.3"/>
<path class="l" d="M240.2 241.1L243.3 243.1" stroke="#00a500" stroke-width="2"/>
<path class="l" d="M243.3 243.1L245.3 243.2" stroke="#00ba00" stroke-width="2.7"/>
<path class="l" d="M245.3 243.2L248.4 244.2" stroke="#00b400" stroke-width="2.2"/>
<path class="l" d="M248.4 244.2L251.2 243.9" stroke="#00b000" stroke-width="2.1"/>
<path class="l" d="M251.2 243.9L253.8 243" stroke="#00c200" stroke-width="2.6"/>
<path class="l" d="M253.8 243L256.8 241.9" stroke="#00ca00" stroke-width="2.2"/>
<path class="l" d="M256.8 241.9L259 242.2" stroke="#008d00" stroke-width="2"/>
<path class="l" d="M259 242.2L262.1 241" stroke="#00c300" stroke-width="2.1"/>
<path class="l" d="M262.1 241L264.5 240.6" stroke="#00c300" stroke-width="2.2"/>
<path class="l" d="M264.5 240.6L266.9 241" stroke="#00db00" stroke-width="1.9"/>
<path class="l" d="M266.9 241L269.8 241.2" stroke="#00db00" stroke-width="2.6"/>
<path class="l" d="M269.8 241.2L272.3 241.3" stroke="#00db00" stroke-width="2"/>
<path class="l" d="M272.3 241.3L275.7 242" stroke="#00ce00" stroke-width="2.2"/>
<path class="l" d="M275.7 242L278 242.4" stroke="#008500" stroke-width="2.3"/>
<path class="l" d="M278 242.4L280.4 242.6" stroke="#008500" stroke-width="1.8"/>
<path class="l" d="M280.4 242.6L283.4 243.8" stroke="#00cc00" stroke-width="1.9"/>
<path class="l" d="M283.4 243.8L285.4 243.5" stroke="#00a300" stroke-width="2.5"/>
<path class="l" d="M285.4 243.5L288.4 244.3" stroke="#00ca00" stroke-width="1.9"/>
<path class="l" d="M288.4 244.3L290.6 243.3" stroke="#00b200" stroke-width="2.7"/>
<path class="l" d="M290.6 243.3L292.6 246.1" stroke="#009b00" stroke-width="1.9"/>
<path class="l" d="M292.6 246.1L295.4 243.8" stroke="#00ae00" stroke-width="2.6"/>
<path class="l" d="M295.4 243.8L298.2 244.4" stroke="#00b000" stroke-width="1.9"/>
<path class="l" d="M298.2 244.4L300 242.4" stroke="#00c700" stroke-width="1.9"/>
<path class="l" d="M300 242.4L303 242.1" stroke="#008400" stroke-width="1.8"/>
<path class="l" d="M303 242.1L305.7 242.3" stroke="#00c200" stroke-width="2.5"/>
<path class="l" d="M305.7 242.3L308.9 241" stroke="#00cc00" stroke-width="2.1"/>
<path class="l" d="M308.9 241L311.7 241" stroke="#00c200" stroke-width="2.4"/>
<path class="l" d="M311.7 241L313 240.8" stroke="#00db00" stroke-width="2.1"/>
<path class="l" d="M313 240.8L315.2 239.2" stroke="#00c300" stroke-width="2.2"/>
<path class="l" d="M315.2 239.2L316.5 238.2" stroke="#00db00" stroke-width="2.7"/>
<path class="l" d="M316.5 238.2L319 236.9" stroke="#00cf00" stroke-width="1.9"/>
<path class="l" d="M319 236.9L320.6 236.7" stroke="#00db00" stroke-width="2.3"/>
<path class="l" d="M320.6 236.7L323.1 233.7" stroke="#00b800" stroke-width="2"/>
<path class="l" d="M323.1 233.7L325.3 233.8" stroke="#00da00" stroke-width="2.1"/>
<path class="l" d="M325.3 233.8L327.4 235" stroke="#009100" stroke-width="1.8"/>
<path class="l" d="M327.4 235L330 235.7" stroke="#00d200" stroke-width="2"/>
<path class="l" d="M330 235.7L332.6 236.4" stroke="#009e00" stroke-width="1.9"/>
<path class="l" d="M332.6 236.4L335 236.3" stroke="#00cb00" stroke-width="2.3"/>
<path class="l" d="M335 238.8L337.5 238" stroke="#00ae00" stroke-width="2.3"/>
<path class="l" d="M337.5 238L340 236.5" stroke="#008300" stroke-width="2.5"/>
<path class="l" d="M340 236.5L342.7 238" stroke="#009b00" stroke-width="2.7"/>
<path class="l" d="M342.7 238L345.2 236.7" stroke="#00a000" stroke-width="2.1"/>
<path class="l" d="M345.2 236.7L347.7 235.1" stroke="#009900" stroke-width="2.3"/>
<path class="l" d="M347.7 235.1L350.3 235.1" stroke="#005900" stroke-width="2"/>
<path class="l" d="M350.3 235.1L352.8 232.5" stroke="#005700" stroke-width="2.3"/>
<path class="l" d="M352.8 232.5L355.1 232" stroke="#006900" stroke-width="2.2"/>
<path class="l" d="M355.1 232L357.4 230.1" stroke="#008100" stroke-width="2.5"/>
<path class="l" d="M357.4 230.1L359.5 230.6" stroke="#008300" stroke-width="2"/>
<path class="l" d="M359.5 230.6L362.1 229.3" stroke="#007800" stroke-width="2.3"/>
<path class="l" d="M362.1 229.3L364.3 229" stroke="#007e00" stroke-width="2.6"/>
<path class="l" d="M364.3 229L366.5 228" stroke="#006e00" stroke-width="1.8"/>
<path class="l" d="M366.5 228L369.3 227.7" stroke="#007300" stroke-width="1.8"/>
<path class="l" d="M675.5 213.1L677.1 215.5" stroke="#007400" stroke-width="2.6"/>
<path class="l" d="M677.1 215.5L678.7 216.3" stroke="#00b200" stroke-width="2.4"/>
<path class="l" d="M678.7 216.3L680.3 218" stroke="#007400" stroke-width="2.4"/>
<path class="l" d="M680.3 218L682.6 219.4" stroke="#00a100" stroke-width="3.2"/>
<path class="l" d="M682.6 219.4L685 217.5" stroke="#00ae00" stroke-width="2.8"/>
<path class="l" d="M685 217.5L687.1 218" stroke="#00a600" stroke-width="2.3"/>
<path class="l" d="M687.1 218L689.2 216" stroke="#006600" stroke-width="2.7"/>
<path class="l" d="M689.2 216L691.8 216.3" stroke="#009c00" stroke-width="2.6"/>
<path class="l" d="M691.8 216.3L694.4 217.9" stroke="#00b300" stroke-width="2.2"/>
<path class="l" d="M694.4 217.9L697 218.3" stroke="#009800" stroke-width="3.1"/>
<path class="l" d="M697 218.3L699.7 218.4" stroke="#00c100" stroke-width="2.4"/>
<path class="l" d="M699.7 218.4L702.1 219.2" stroke="#00a600" stroke-width="3.2"/>
<path class="l" d="M702.1 219.2L703.9 220.3" stroke="#00c600" stroke-width="3"/>
<path class="l" d="M703.9 220.3L706.7 218.9" stroke="#00db00" stroke-width="2.1"/>
<path class="l" d="M706.7 218.9L708.5 222.4" stroke="#00da00" stroke-width="2.3"/>
<path class="l" d="M708.5 222.4L710.4 222.6" stroke="#00db00" stroke-width="2.1"/>
<path class="l" d="M710.4 222.6L713 223" stroke="#00b400" stroke-width="2.9"/>
<path class="l" d="M713 223L715.3 224.2" stroke="#00cd00" stroke-width="2.7"/>
<path class="l" d="M715.3 224.2L717 224.2" stroke="#00b800" stroke-width="3.1"/>
<path class="l" d="M717 224.2L718.9 227.1" stroke="#009500" stroke-width="3"/>
<path class="l" d="M718.9 227.1L721.6 229.6" stroke="#00da00" stroke-width="2.7"/>
<path class="l" d="M721.6 229.6L723.6 229.7" stroke="#00db00" stroke-width="2.4"/>
<path class="l" d="M723.6 229.7L726.6 230" stroke="#00db00" stroke-width="2.2"/>
<path class="l" d="M726.6 230L728.9 229.2" stroke="#00db00" stroke-width="3"/>
<path class="l" d="M728.9 229.2L732.3 228.6" stroke="#009000" stroke-width="3.1"/>
<path class="l" d="M732.3 228.6L735 228.6" stroke="#00da00" stroke-width="3.2"/>
<path class="l" d="M735 228.6L737.5 228.6" stroke="#00db00" stroke-width="2"/>
<path class="l" d="M737.5 228.6L739.9 228.3" stroke="#008900" stroke-width="1.8"/>
<path class="l" d="M739.9 228.3L742.2 228.1" stroke="#00ba00" stroke-width="1.6"/>
<path class="l" d="M742.2 228.1L743.8 231.2" stroke="#00a100" stroke-width="1.6"/>
<path class="l" d="M743.8 231.2L745.7 233.3" stroke="#00bb00" stroke-width="2.3"/>
<path class="l" d="M745.7 233.3L746.7 234.5" stroke="#00bf00" stroke-width="1.8"/>
<path class="l" d="M746.7 234.5L748.8 236" stroke="#00b100" stroke-width="2.4"/>
<path class="l" d="M748.8 236L750 237" stroke="#009100" stroke-width="1.8"/>
<path class="l" d="M750 237L751.9 236.2" stroke="#00a400" stroke-width="2.1"/>
<path class="l" d="M751.9 236.2L754.2 236.1" stroke="#00cf00" stroke-width="2.5"/>
<path class="l" d="M754.2 236.1L755.9 231.8" stroke="#009c00" stroke-width="2.1"/>
<path class="l" d="M755.9 231.8L757.5 230" stroke="#00a100" stroke-width="2.3"/>
<path class="l" d="M757.5 230L760.5 230.2" stroke="#00db00" stroke-width="2"/>
<path class="l" d="M760.5 230.2L763.2 229.1" stroke="#00d200" stroke-width="2"/>
<path class="l" d="M763.2 229.1L765.8 228.6" stroke="#008c00" stroke-width="2.1"/>
<path class="l" d="M765.8 228.6L767.6 231.6" stroke="#00c900" stroke-width="2.2"/>
<path class="l" d="M767.6 231.6L769.8 231.4" stroke="#00db00" stroke-width="2.4"/>
<path class="l" d="M769.8 231.4L772.1 231.2" stroke="#00d400" stroke-width="2.5"/>
<path class="l" d="M772.1 231.2L774.8 234.5" stroke="#00ca00" stroke-width="1.8"/>
<path class="l" d="M774.8 234.5L777 233.9" stroke="#00a600" stroke-width="1.9"/>
<path class="l" d="M777 233.9L779.3 235.2" stroke="#008500" stroke-width="2.4"/>
<path class="l" d="M779.3 235.2L781.3 237.2" stroke="#007e00" stroke-width="1.6"/>
<path class="l" d="M781.3 237.2L783.3 237.3" stroke="#009700" stroke-width="2.4"/>
<path class="l" d="M783.3 237.3L785 241" stroke="#009300" stroke-width="1.6"/>
<path class="l" d="M785 241L786.2 240.9" stroke="#008e00" stroke-width="2.4"/>
<path class="l" d="M786.2 240.9L789.1 239.3" stroke="#007200" stroke-width="2.5"/>
<path class="l" d="M789.1 239.3L790.9 239.4" stroke="#009300" stroke-width="2.4"/>
<path class="l" d="M790.9 239.4L793.1 239.6" stroke="#009700" stroke-width="1.8"/>
<path class="l" d="M793.1 239.6L794.7 238.8" stroke="#00aa00" stroke-width="1.9"/>
<path class="l" d="M794.7 238.8L796.9 235.3" stroke="#009600" stroke-width="2.3"/>
<path class="l" d="M796.9 235.3L798.7 235.9" stroke="#009900" stroke-width="2.3"/>
<path class="l" d="M798.7 235.9L800 233.3" stroke="#00ac00" stroke-width="2"/>
<path class="l" d="M800 233.3L802.6 233.8" stroke="#008300" stroke-width="2.1"/>
<path class="l" d="M802.6 233.8L804.9 234.3" stroke="#009f00" stroke-width="1.9"/>
<path class="l" d="M804.9 234.3L806.7 235.5" stroke="#009300" stroke-width="1.6"/>
<path class="l" d="M806.7 235.5L809.1 236.3" stroke="#006100" stroke-width="2.1"/>
<path class="l" d="M809.1 236.3L811.7 237.3" stroke="#009a00" stroke-width="2.1"/>
<path class="l" d="M811.7 237.3L813.6 240.7" stroke="#008400" stroke-width="2"/>
<path class="l" d="M813.6 240.7L816.5 238.6" stroke="#007d00" stroke-width="1.9"/>
<path class="l" d="M816.5 238.6L818 242.1" stroke="#008500" stroke-width="2.5"/>
<path class="l" d="M818 242.1L820.3 243.8" stroke="#008600" stroke-width="1.8"/>
<path class="l" d="M820.3 243.8L823.1 241.7" stroke="#008a00" stroke-width="1.7"/>
<path class="l" d="M823.1 241.7L825.3 239.9" stroke="#006300" stroke-width="2.3"/>
<path class="l" d="M825.3 239.9L827.1 238.6" stroke="#007a00" stroke-width="1.7"/>
<path class="l" d="M827.1 238.6L829.2 236.8" stroke="#006300" stroke-width="1.7"/>
<path class="l" d="M829.2 236.8L831.7 237.7" stroke="#006100" stroke-width="2"/>
<path class="l" d="M831.7 237.7L834.9 237.4" stroke="#009a00" stroke-width="2.3"/>
<path class="l" d="M834.9 237.4L837.6 239.4" stroke="#007d00" stroke-width="2.1"/>
<path class="l" d="M837.6 239.4L839.8 239.6" stroke="#007100" stroke-width="2.2"/>
<path class="l" d="M839.8 239.6L842.5 239.5" stroke="#008500" stroke-width="1.8"/>
<path class="l" d="M842.5 239.5L844.7 242" stroke="#008100" stroke-width="2.1"/>
<path class="l" d="M844.7 242L847 242.3" stroke="#007300" stroke-width="2.2"/>
<path class="l" d="M847 242.3L849.5 244.5" stroke="#007300" stroke-width="1.8"/>
<path class="l" d="M849.5 244.5L851.9 241.7" stroke="#007f00" stroke-width="2.3"/>
<path class="l" d="M851.9 241.7L852.9 240.5" stroke="#007800" stroke-width="1.7"/>
<path class="l" d="M852.9 240.5L855 236.8" stroke="#00a100" stroke-width="2"/>
<path class="l" d="M855 236.8L856.7 235.8" stroke="#009700" stroke-width="2"/>
<path class="l" d="M856.7 235.8L858.2 237.4" stroke="#00b500" stroke-width="2"/>
<path class="l" d="M858.2 237.4L859.8 239.6" stroke="#00a100" stroke-width="2.2"/>
<path class="l" d="M859.8 239.6L861.5 240.6" stroke="#00a600" stroke-width="2.1"/>
<path class="l" d="M861.5 240.6L863.7 245.1" stroke="#006400" stroke-width="2.5"/>
<path class="l" d="M863.7 245.1L865.5 242.9" stroke="#00a300" stroke-width="2.4"/>
<path class="l" d="M865.5 242.9L867.2 240.6" stroke="#005a00" stroke-width="1.7"/>
<path class="l" d="M867.2 240.6L869.1 240.5" stroke="#008100" stroke-width="2.3"/>
<path class="l" d="M869.1 240.5L870.7 238.2" stroke="#004e00" stroke-width="2.3"/>
<path class="l" d="M870.7 238.2L872.6 238.9" stroke="#007600" stroke-width="1.6"/>
<path class="l" d="M872.6 238.9L875.1 240" stroke="#006700" stroke-width="1.7"/>
<path class="l" d="M875.1 240L877 240" stroke="#005e00" stroke-width="2.1"/>
<path class="l" d="M877 240L879.8 242.6" stroke="#006700" stroke-width="1.9"/>
<path class="l" d="M879.8 242.6L881.7 244.7" stroke="#006d00" stroke-width="1.6"/>
<path class="l" d="M881.7 244.7L884.1 243.6" stroke="#008d00" stroke-width="2.1"/>
<path class="l" d="M884.1 243.6L884.3 242.9" stroke="#009300" stroke-width="1.9"/>
<path class="l" d="M884.3 242.9L884.6 240.4" stroke="#009300" stroke-width="2.5"/>
<path class="l" d="M884.6 240.4L885 237.4" stroke="#008500" stroke-width="2.1"/>
<path class="l" d="M885 237.4L886 236.8" stroke="#008500" stroke-width="2.1"/>
<path class="l" d="M886 236.8L888.1 237.4" stroke="#008d00" stroke-width="2.3"/>
<path class="l" d="M888.1 237.4L890.2 237.9" stroke="#007900" stroke-width="2.1"/>
<path class="l" d="M890.2 237.9L892.8 238.8" stroke="#006700" stroke-width="2.3"/>
<path class="l" d="M892.8 238.8L894.9 239" stroke="#005200" stroke-width="2.2"/>
<path class="l" d="M894.9 239L897.1 240.9" stroke="#006100" stroke-width="2.3"/>
<path class="l" d="M897.1 240.9L899.4 240.5" stroke="#004200" stroke-width="2.4"/>
<path class="l" d="M899.4 240.5L901.5 240.2" stroke="#006600" stroke-width="2.2"/>
<path class="l" d="M901.5 240.2L903.8 240.8" stroke="#007000" stroke-width="2.4"/>
<path class="l" d="M903.8 240.8L906.8 238.8" stroke="#006600" stroke-width="1.7"/>
<path class="l" d="M906.8 238.8L908.8 239.3" stroke="#005c00" stroke-width="2.2"/>
<path class="l" d="M908.8 239.3L911.1 239" stroke="#007000" stroke-width="1.7"/>
<path class="l" d="M911.1 239L912.9 236.3" stroke="#004200" stroke-width="2.1"/>
<path class="l" d="M912.9 236.3L915.7 237.6" stroke="#005200" stroke-width="1.8"/>
<path class="l" d="M915.7 237.6L918.1 238.7" stroke="#006600" stroke-width="1.7"/>
<path class="l" d="M918.1 238.7L920.1 239.5" stroke="#006b00" stroke-width="1.7"/>
<path class="l" d="M920.1 239.5L921.7 241.6" stroke="#006300" stroke-width="2.1"/>
<path class="l" d="M921.7 241.6L923.7 242.6" stroke="#004600" stroke-width="2.3"/>
<path class="l" d="M923.7 242.6L924.8 245.1" stroke="#007100" stroke-width="2.5"/>
<path class="l" d="M924.8 245.1L926.6 242.8" stroke="#006f00" stroke-width="1.8"/>
<path class="l" d="M926.6 242.8L928.7 241.3" stroke="#007e00" stroke-width="2.2"/>
<path class="l" d="M928.7 241.3L930.1 238.2" stroke="#006200" stroke-width="2.3"/>
<path class="l" d="M930.1 238.2L932 236.2" stroke="#007e00" stroke-width="2.1"/>
<path class="l" d="M932 236.2L935 236.3" stroke="#008500" stroke-width="2.1"/>
<path class="l" d="M135 418.6L137.6 419.5" stroke="#00a700" stroke-width="2.6"/>
<path class="l" d="M137.6 419.5L140.4 420.6" stroke="#008800" stroke-width="2.1"/>
<path class="l" d="M140.4 420.6L142.9 420.7" stroke="#00a500" stroke-width="2.3"/>
<path class="l" d="M142.9 420.7L145.3 420.2" stroke="#008e00" stroke-width="2.1"/>
<path class="l" d="M145.3 420.2L148.2 420.9" stroke="#00c400" stroke-width="2"/>
<path class="l" d="M148.2 420.9L150.7 422.5" stroke="#00c400" stroke-width="2.1"/>
<path class="l" d="M150.7 422.5L153.2 422.7" stroke="#007400" stroke-width="2.7"/>
<path class="l" d="M153.2 422.7L155.2 423.7" stroke="#00c400" stroke-width="2.2"/>
<path class="l" d="M155.2 423.7L158.1 422.5" stroke="#008f00" stroke-width="2"/>
<path class="l" d="M158.1 422.5L161.1 424.1" stroke="#00bb00" stroke-width="2.2"/>
<path class="l" d="M161.1 424.1L163.2 423.4" stroke="#00a100" stroke-width="1.9"/>
<path class="l" d="M163.2 423.4L165.9 422.8" stroke="#00b200" stroke-width="2.5"/>
<path class="l" d="M165.9 422.8L168.2 423.5" stroke="#00bd00" stroke-width="2.4"/>
<path class="l" d="M168.2 423.5L171.2 423.8" stroke="#00b700" stroke-width="2.7"/>
<path class="l" d="M171.2 423.8L173.4 423.9" stroke="#007900" stroke-width="2.1"/>
<path class="l" d="M173.4 423.9L176.1 422.2" stroke="#00ab00" stroke-width="2.6"/>
<path class="l" d="M176.1 422.2L178.7 423.2" stroke="#00bf00" stroke-width="1.9"/>
<path class="l" d="M178.7 423.2L181 420.9" stroke="#00bf00" stroke-width="1.8"/>
<path class="l" d="M181 420.9L183.9 421.4" stroke="#00bf00" stroke-width="2.6"/>
<path class="l" d="M183.9 421.4L186.5 420.3" stroke="#007c00" stroke-width="1.8"/>
<path class="l" d="M186.5 420.3L189.3 421.6" stroke="#009900" stroke-width="2.5"/>
<path class="l" d="M189.3 421.6L191.9 421.6" stroke="#007c00" stroke-width="2.2"/>
<path class="l" d="M191.9 421.6L193.8 422.5" stroke="#00ac00" stroke-width="2.3"/>
<path class="l" d="M193.8 422.5L196.6 423.3" stroke="#00d200" stroke-width="2.6"/>
<path class="l" d="M196.6 423.3L198.9 422.6" stroke="#00c100" stroke-width="2.3"/>
<path class="l" d="M198.9 422.6L201.9 422.5" stroke="#00c400" stroke-width="2.2"/>
<path class="l" d="M201.9 422.5L204.7 422.3" stroke="#00db00" stroke-width="2.3"/>
<path class="l" d="M204.7 422.3L206.8 422.8" stroke="#00d500" stroke-width="1.9"/>
<path class="l" d="M206.8 422.8L209.5 422.7" stroke="#00d600" stroke-width="2.1"/>
<path class="l" d="M209.5 422.7L212.6 420.9" stroke="#00d600" stroke-width="2.4"/>
<path class="l" d="M212.6 420.9L215.6 423.2" stroke="#00d600" stroke-width="1.8"/>
<path class="l" d="M215.6 423.2L218.4 422.4" stroke="#00ca00" stroke-width="2.6"/>
<path class="l" d="M218.4 422.4L221.1 422.6" stroke="#00b300" stroke-width="2.7"/>
<path class="l" d="M221.1 422.6L223.1 424" stroke="#007f00" stroke-width="1.8"/>
<path class="l" d="M223.1 424L226.2 424.7" stroke="#00b700" stroke-width="1.8"/>
<path class="l" d="M226.2 424.7L228.2 425.9" stroke="#00c100" stroke-width="2.6"/>
<path class="l" d="M228.2 425.9L231 424.3" stroke="#00c300" stroke-width="2.2"/>
<path class="l" d="M231 424.3L233.4 424.1" stroke="#009e00" stroke-width="2.4"/>
<path class="l" d="M233.4 424.1L235.5 424.4" stroke="#00db00" stroke-width="2.6"/>
<path class="l" d="M235.5 424.4L238.2 424" stroke="#008400" stroke-width="1.9"/>
<path class="l" d="M238.2 424L240.3 427.1" stroke="#00b600" stroke-width="2.4"/>
<path class="l" d="M240.3 427.1L241.8 425.2" stroke="#00db00" stroke-width="2"/>
<path class="l" d="M241.8 425.2L244 427.5" stroke="#00d800" stroke-width="2.1"/>
<path class="l" d="M244 427.5L246 428" stroke="#00ca00" stroke-width="1.9"/>
<path class="l" d="M246 428L248.9 429.4" stroke="#007f00" stroke-width="2.4"/>
<path class="l" d="M248.9 429.4L251.8 429.6" stroke="#00c200" stroke-width="1.9"/>
<path class="l" d="M251.8 429.6L254.8 430.8" stroke="#008a00" stroke-width="1.8"/>
<path class="l" d="M254.8 430.8L257.9 431.5" stroke="#008d00" stroke-width="2.4"/>
<path class="l" d="M257.9 431.5L260.3 428.7" stroke="#00d900" stroke-width="2"/>
<path class="l" d="M260.3 428.7L263 426.5" stroke="#00d900" stroke-width="2.3"/>
<path class="l" d="M263 426.5L265 427.6" stroke="#00d900" stroke-width="1.8"/>
<path class="l" d="M265 427.6L268.2 427.5" stroke="#00d700" stroke-width="1.9"/>
<path class="l" d="M268.2 427.5L270.5 429.1" stroke="#00d400" stroke-width="1.9"/>
<path class="l" d="M270.5 429.1L272.9 429.3" stroke="#00d100" stroke-width="2.3"/>
<path class="l" d="M272.9 429.3L275.4 430.6" stroke="#00c300" stroke-width="2"/>
<path class="l" d="M275.4 430.6L278.1 428.8" stroke="#00b500" stroke-width="2.4"/>
<path class="l" d="M278.1 428.8L280.6 428.6" stroke="#00cc00" stroke-width="2.6"/>
<path class="l" d="M280.6 428.6L283.3 427.9" stroke="#00bc00" stroke-width="2.6"/>
<path class="l" d="M283.3 427.9L286 427.4" stroke="#00ad00" stroke-width="2.6"/>
<path class="l" d="M286 427.4L288.3 428.5" stroke="#00c400" stroke-width="1.9"/>
<path class="l" d="M288.3 428.5L290.8 428.2" stroke="#00a100" stroke-width="2.7"/>
<path class="l" d="M290.8 428.2L293.7 428.3" stroke="#00aa00" stroke-width="2.1"/>
<path class="l" d="M293.7 428.3L296.4 429" stroke="#00b200" stroke-width="1.9"/>
<path class="l" d="M296.4 429L298.9 429.1" stroke="#008e00" stroke-width="2.7"/>
<path class="l" d="M298.9 429.1L301.3 428.4" stroke="#007100" stroke-width="2"/>
<path class="l" d="M301.3 428.4L304 428.1" stroke="#00b300" stroke-width="2.6"/>
<path class="l" d="M304 428.1L306.1 430.8" stroke="#00b800" stroke-width="2.3"/>
<path class="l" d="M306.1 430.8L309.1 429.8" stroke="#00ae00" stroke-width="2.4"/>
<path class="l" d="M309.1 429.8L312.4 428.1" stroke="#009d00" stroke-width="1.8"/>
<path class="l" d="M312.4 428.1L315.2 426.7" stroke="#006c00" stroke-width="2.3"/>
<path class="l" d="M315.2 426.7L317.2 427.8" stroke="#009c00" stroke-width="1.8"/>
<path class="l" d="M317.2 427.8L319.6 425.8" stroke="#00b100" stroke-width="2.2"/>
<path class="l" d="M319.6 425.8L321.7 426.7" stroke="#00a600" stroke-width="2.5"/>
<path class="l" d="M321.7 426.7L323.3 423.7" stroke="#009b00" stroke-width="2.2"/>
<path class="l" d="M323.3 423.7L326.3 422.8" stroke="#009700" stroke-width="1.9"/>
<path class="l" d="M326.3 422.8L329 422.2" stroke="#00a300" stroke-width="2"/>
<path class="l" d="M329 422.2L331.8 422.1" stroke="#009100" stroke-width="2.6"/>
<path class="l" d="M331.8 422.1L335 422" stroke="#009c00" stroke-width="2.3"/>
<path class="l" d="M335 422L337.6 422.9" stroke="#005900" stroke-width="2.1"/>
<path class="l" d="M337.6 422.9L339.8 420.6" stroke="#008300" stroke-width="2.7"/>
<path class="l" d="M339.8 420.6L342.6 422.1" stroke="#006300" stroke-width="1.8"/>
<path class="l" d="M342.6 422.1L345.4 421.2" stroke="#004d00" stroke-width="2.4"/>
<path class="l" d="M345.4 421.2L347.6 419.9" stroke="#006600" stroke-width="2.6"/>
<path class="l" d="M347.6 419.9L349.8 419.2" stroke="#006f00" stroke-width="2.4"/>
<path class="l" d="M349.8 419.2L352.3 418.5" stroke="#006c00" stroke-width="2"/>
<path class="l" d="M352.3 418.5L355.1 418.9" stroke="#005f00" stroke-width="2.4"/>
<path class="l" d="M355.1 418.9L357.1 417.2" stroke="#006700" stroke-width="2.4"/>
<path class="l" d="M357.1 417.2L359.9 415.9" stroke="#004100" stroke-width="2.6"/>
<path class="l" d="M359.9 415.9L362.2 414.9" stroke="#006800" stroke-width="2.3"/>
<path class="l" d="M362.2 414.9L364.7 415.8" stroke="#005900" stroke-width="1.8"/>
<path class="l" d="M364.7 415.8L366.7 416" stroke="#005400" stroke-width="2"/>
<path class="l" d="M366.7 416L369.3 415.1" stroke="#005700" stroke-width="2.3"/>
<path class="l" d="M673.8 399.7L675.7 400.6" stroke="#00a100" stroke-width="3.2"/>
<path class="l" d="M675.7 400.6L678.3 402" stroke="#009900" stroke-width="2.1"/>
<path class="l" d="M678.3 402L679.9 404.2" stroke="#00a800" stroke-width="2.4"/>
<path class="l" d="M679.9 404.2L682.6 404.8" stroke="#007a00" stroke-width="3"/>
<path class="l" d="M682.6 404.8L685 404.2" stroke="#009100" stroke-width="2.8"/>
<path class="l" d="M685 404.2L686.8 402.6" stroke="#006300" stroke-width="2.9"/>
<path class="l" d="M686.8 402.6L689.2 401.2" stroke="#008a00" stroke-width="2.9"/>
<path class="l" d="M689.2 401.2L691.6 402.3" stroke="#009100" stroke-width="2.8"/>
<path class="l" d="M691.6 402.3L693.5 402.9" stroke="#00a100" stroke-width="3"/>
<path class="l" d="M693.5 402.9L696.1 405.3" stroke="#00b000" stroke-width="2.3"/>
<path class="l" d="M696.1 405.3L698.3 405.6" stroke="#008600" stroke-width="2.1"/>
<path class="l" d="M698.3 405.6L700.8 406.5" stroke="#00d200" stroke-width="2.8"/>
<path class="l" d="M700.8 406.5L702.9 409.1" stroke="#00db00" stroke-width="2.5"/>
<path class="l" d="M702.9 409.1L705 408.9" stroke="#00ce00" stroke-width="2.6"/>
<path class="l" d="M705 408.9L707.2 410" stroke="#008d00" stroke-width="2.9"/>
<path class="l" d="M707.2 410L709.8 410.1" stroke="#008d00" stroke-width="2.5"/>
<path class="l" d="M709.8 410.1L711.6 412.8" stroke="#00da00" stroke-width="3.2"/>
<path class="l" d="M711.6 412.8L714 411.8" stroke="#00db00" stroke-width="3"/>
<path class="l" d="M714 411.8L716.3 412.8" stroke="#00b400" stroke-width="3.2"/>
<path class="l" d="M716.3 412.8L718.4 414.8" stroke="#00db00" stroke-width="2.9"/>
<path class="l" d="M718.4 414.8L720.7 414.7" stroke="#00b800" stroke-width="2.8"/>
<path class="l" d="M720.7 414.7L722.6 415.5" stroke="#00da00" stroke-width="2.9"/>
<path class="l" d="M722.6 415.5L725.6 415" stroke="#00cf00" stroke-width="2.2"/>
<path class="l" d="M725.6 415L727.4 415.6" stroke="#00d900" stroke-width="3"/>
<path class="l" d="M727.4 415.6L730.1 416.3" stroke="#00d500" stroke-width="2.9"/>
<path class="l" d="M730.1 416.3L732.9 416.7" stroke="#009000" stroke-width="3.1"/>
<path class="l" d="M732.9 416.7L735 416.8" stroke="#008e00" stroke-width="3"/>
<path class="l" d="M701.2 396.3L703.7 398.4" stroke="#009c00" stroke-width="2.7"/>
<path class="l" d="M703.7 398.4L705.1 399.8" stroke="#006800" stroke-width="2"/>
<path class="l" d="M705.1 399.8L707.4 402" stroke="#008500" stroke-width="2.6"/>
<path class="l" d="M707.4 402L709.2 404.3" stroke="#00a200" stroke-width="2.4"/>
<path class="l" d="M709.2 404.3L711.4 404" stroke="#00b000" stroke-width="2.5"/>
<path class="l" d="M711.4 404L713 407.5" stroke="#00b700" stroke-width="2.1"/>
<path class="l" d="M713 407.5L714.8 409.8" stroke="#009900" stroke-width="2.3"/>
<path class="l" d="M714.8 409.8L716.7 411.7" stroke="#00d200" stroke-width="2.4"/>
<path class="l" d="M735 417.7L737.4 416.8" stroke="#00c100" stroke-width="2"/>
<path class="l" d="M737.4 416.8L739.5 417" stroke="#00bd00" stroke-width="1.7"/>
<path class="l" d="M739.5 417L741.5 417.2" stroke="#00db00" stroke-width="2.4"/>
<path class="l" d="M741.5 417.2L743.9 417.6" stroke="#00db00" stroke-width="2.2"/>
<path class="l" d="M743.9 417.6L745.2 417.8" stroke="#00c200" stroke-width="1.7"/>
<path class="l" d="M745.2 417.8L747.4 420.2" stroke="#00c500" stroke-width="1.6"/>
<path class="l" d="M747.4 420.2L748.4 422.4" stroke="#007600" stroke-width="2.1"/>
<path class="l" d="M748.4 422.4L751.4 423.4" stroke="#00c400" stroke-width="1.9"/>
<path class="l" d="M751.4 423.4L754 425.4" stroke="#00aa00" stroke-width="2.3"/>
<path class="l" d="M754 425.4L756 422.7" stroke="#00a600" stroke-width="1.7"/>
<path class="l" d="M756 422.7L758.4 421.1" stroke="#00c600" stroke-width="2.4"/>
<path class="l" d="M758.4 421.1L760.9 418.8" stroke="#00db00" stroke-width="1.7"/>
<path class="l" d="M760.9 418.8L763 415.8" stroke="#00d700" stroke-width="2.1"/>
<path class="l" d="M763 415.8L765.4 418.3" stroke="#00a800" stroke-width="2.2"/>
<path class="l" d="M765.4 418.3L767.2 415.8" stroke="#00ce00" stroke-width="1.9"/>
<path class="l" d="M767.2 415.8L769.5 416.3" stroke="#00b500" stroke-width="2.1"/>
<path class="l" d="M769.5 416.3L771.8 419.6" stroke="#00b900" stroke-width="2.1"/>
<path class="l" d="M771.8 419.6L773.8 418.6" stroke="#00b300" stroke-width="2.4"/>
<path class="l" d="M773.8 418.6L776 419.3" stroke="#00ad00" stroke-width="2.1"/>
<path class="l" d="M776 419.3L778.5 418.9" stroke="#00c200" stroke-width="2.2"/>
<path class="l" d="M778.5 418.9L781 421.7" stroke="#008a00" stroke-width="2.2"/>
<path class="l" d="M781 421.7L782.6 422.4" stroke="#006d00" stroke-width="1.7"/>
<path class="l" d="M782.6 422.4L784.9 423.5" stroke="#009a00" stroke-width="2.2"/>
<path class="l" d="M784.9 423.5L786.7 424.3" stroke="#007d00" stroke-width="1.6"/>
<path class="l" d="M786.7 424.3L788.3 427.7" stroke="#007800" stroke-width="1.8"/>
<path class="l" d="M788.3 427.7L790.1 428.7" stroke="#008800" stroke-width="2.3"/>
<path class="l" d="M790.1 428.7L792.7 430.9" stroke="#007000" stroke-width="2.3"/>
<path class="l" d="M792.7 430.9L794.8 432.3" stroke="#007000" stroke-width="1.6"/>
<path class="l" d="M794.8 432.3L796.6 427.6" stroke="#009800" stroke-width="2.5"/>
<path class="l" d="M796.6 427.6L797.6 426.4" stroke="#00a200" stroke-width="2.4"/>
<path class="l" d="M797.6 426.4L798.8 424.1" stroke="#00b500" stroke-width="1.9"/>
<path class="l" d="M798.8 424.1L800.3 422" stroke="#00ae00" stroke-width="2.4"/>
<path class="l" d="M800.3 422L802.6 421.6" stroke="#008c00" stroke-width="2.2"/>
<path class="l" d="M802.6 421.6L805.6 421.2" stroke="#00a000" stroke-width="2.3"/>
<path class="l" d="M805.6 421.2L808 423.9" stroke="#00ab00" stroke-width="2.2"/>
<path class="l" d="M808 423.9L810.6 422.7" stroke="#006600" stroke-width="1.8"/>
<path class="l" d="M810.6 422.7L812.9 424.8" stroke="#00a100" stroke-width="1.7"/>
<path class="l" d="M812.9 424.8L814.7 426.7" stroke="#00a100" stroke-width="1.8"/>
<path class="l" d="M814.7 426.7L817.2 427.1" stroke="#008a00" stroke-width="2.2"/>
<path class="l" d="M817.2 427.1L819.6 424.5" stroke="#009900" stroke-width="1.6"/>
<path class="l" d="M819.6 424.5L821.4 423.8" stroke="#009900" stroke-width="2.1"/>
<path class="l" d="M821.4 423.8L823.9 421.6" stroke="#008a00" stroke-width="1.8"/>
<path class="l" d="M823.9 421.6L827 421.2" stroke="#007800" stroke-width="1.6"/>
<path class="l" d="M827 421.2L829.6 420.8" stroke="#009e00" stroke-width="1.8"/>
<path class="l" d="M829.6 420.8L830.7 421.6" stroke="#008100" stroke-width="1.9"/>
<path class="l" d="M830.7 421.6L832.4 423.1" stroke="#007900" stroke-width="2"/>
<path class="l" d="M832.4 423.1L834 425.4" stroke="#007700" stroke-width="1.8"/>
<path class="l" d="M834 425.4L836.5 426.2" stroke="#004b00" stroke-width="1.9"/>
<path class="l" d="M836.5 426.2L839.2 428.7" stroke="#007e00" stroke-width="2.3"/>
<path class="l" d="M839.2 428.7L841.3 428.2" stroke="#006700" stroke-width="2.4"/>
<path class="l" d="M841.3 428.2L843.4 429.1" stroke="#007800" stroke-width="1.7"/>
<path class="l" d="M843.4 429.1L845.6 430.5" stroke="#007300" stroke-width="2.1"/>
<path class="l" d="M845.6 430.5L848.1 430.5" stroke="#006700" stroke-width="2.4"/>
<path class="l" d="M848.1 430.5L848.7 427.1" stroke="#006b00" stroke-width="1.9"/>
<path class="l" d="M848.7 427.1L849.2 425.4" stroke="#008600" stroke-width="1.8"/>
<path class="l" d="M849.2 425.4L849.5 424.3" stroke="#008800" stroke-width="1.9"/>
<path class="l" d="M849.5 424.3L852.4 422" stroke="#006e00" stroke-width="1.9"/>
<path class="l" d="M852.4 422L854.8 421" stroke="#008300" stroke-width="2.3"/>
<path class="l" d="M854.8 421L857.1 423.5" stroke="#007100" stroke-width="1.7"/>
<path class="l" d="M857.1 423.5L859.7 421.6" stroke="#007300" stroke-width="1.9"/>
<path class="l" d="M859.7 421.6L861.8 425.2" stroke="#005e00" stroke-width="1.7"/>
<path class="l" d="M861.8 425.2L864.2 425.4" stroke="#005c00" stroke-width="2"/>
<path class="l" d="M864.2 425.4L866.5 425.6" stroke="#007800" stroke-width="2"/>
<path class="l" d="M866.5 425.6L868 428" stroke="#007800" stroke-width="2.2"/>
<path class="l" d="M868 428L870.6 428.2" stroke="#006d00" stroke-width="2.3"/>
<path class="l" d="M870.6 428.2L872.7 429.3" stroke="#007900" stroke-width="2.3"/>
<path class="l" d="M872.7 429.3L874.8 428.6" stroke="#005700" stroke-width="1.7"/>
<path class="l" d="M874.8 428.6L877.3 430.1" stroke="#008b00" stroke-width="1.9"/>
<path class="l" d="M877.3 430.1L877.2 428.1" stroke="#00a600" stroke-width="2.3"/>
<path class="l" d="M877.2 428.1L877.8 427.5" stroke="#005f00" stroke-width="2.5"/>
<path class="l" d="M877.8 427.5L878.4 422.8" stroke="#008000" stroke-width="2"/>
<path class="l" d="M878.4 422.8L881.4 422" stroke="#009300" stroke-width="1.9"/>
<path class="l" d="M881.4 422L884.2 422.7" stroke="#008500" stroke-width="1.8"/>
<path class="l" d="M884.2 422.7L886.2 424.4" stroke="#007800" stroke-width="2.3"/>
<path class="l" d="M886.2 424.4L888.8 424.2" stroke="#006700" stroke-width="1.8"/>
<path class="l" d="M888.8 424.2L890.6 426.3" stroke="#007800" stroke-width="1.9"/>
<path class="l" d="M890.6 426.3L893.4 426.5" stroke="#007b00" stroke-width="2.2"/>
<path class="l" d="M893.4 426.5L895.5 427.8" stroke="#007f00" stroke-width="2.4"/>
<path class="l" d="M895.5 427.8L897.9 427.3" stroke="#006400" stroke-width="1.9"/>
<path class="l" d="M897.9 427.3L899.6 427.3" stroke="#005300" stroke-width="2.3"/>
<path class="l" d="M899.6 427.3L901.5 424.2" stroke="#007300" stroke-width="2.4"/>
<path class="l" d="M901.5 424.2L904.1 423.9" stroke="#007c00" stroke-width="1.7"/>
<path class="l" d="M904.1 423.9L906.7 423.3" stroke="#005e00" stroke-width="1.9"/>
<path class="l" d="M906.7 423.3L908.3 423.2" stroke="#007800" stroke-width="2"/>
<path class="l" d="M908.3 423.2L910.7 425.1" stroke="#007300" stroke-width="2.4"/>
<path class="l" d="M910.7 425.1L912.9 425.7" stroke="#007300" stroke-width="2.4"/>
<path class="l" d="M912.9 425.7L915.4 427" stroke="#007800" stroke-width="1.9"/>
<path class="l" d="M915.4 427L918 426.7" stroke="#004b00" stroke-width="2.2"/>
<path class="l" d="M918 426.7L919.8 427.6" stroke="#006d00" stroke-width="2.5"/>
<path class="l" d="M919.8 427.6L922.9 427" stroke="#007e00" stroke-width="2.3"/>
<path class="l" d="M922.9 427L925 424.8" stroke="#004b00" stroke-width="1.7"/>
<path class="l" d="M925 424.8L927.5 424.7" stroke="#005900" stroke-width="1.9"/>
<path class="l" d="M927.5 424.7L930.4 425" stroke="#006900" stroke-width="1.8"/>
<path class="l" d="M930.4 425L932.4 424.5" stroke="#006600" stroke-width="2.5"/>
<path class="l" d="M932.4 424.5L935 428" stroke="#004200" stroke-width="1.9"/>
<path class="l" d="M851.5 425.4L851.9 427.3" stroke="#008a00" stroke-width="2.1"/>
<path class="l" d="M851.9 427.3L852.3 431.2" stroke="#008a00" stroke-width="2.3"/>
<path class="l" d="M852.3 431.2L853.3 434" stroke="#00a800" stroke-width="2"/>
<path class="l" d="M135 582.8L137.4 584.2" stroke="#00da00" stroke-width="3.1"/>
<path class="l" d="M137.4 584.2L140.3 584.1" stroke="#00db00" stroke-width="3.1"/>
<path class="l" d="M140.3 584.1L143.1 583.2" stroke="#00db00" stroke-width="3.5"/>
<path class="l" d="M143.1 583.2L145.6 582.9" stroke="#009400" stroke-width="3.3"/>
<path class="l" d="M145.6 582.9L147.9 585.3" stroke="#009500" stroke-width="3.1"/>
<path class="l" d="M147.9 585.3L150.4 583.5" stroke="#00db00" stroke-width="2.5"/>
<path class="l" d="M150.4 583.5L152.8 584.1" stroke="#00db00" stroke-width="3.8"/>
<path class="l" d="M152.8 584.1L155.5 586.7" stroke="#00db00" stroke-width="3.2"/>
<path class="l" d="M155.5 586.7L158.1 586.1" stroke="#00db00" stroke-width="3"/>
<path class="l" d="M158.1 586.1L160.3 587.5" stroke="#00db00" stroke-width="2.8"/>
<path class="l" d="M160.3 587.5L163.6 587" stroke="#00db00" stroke-width="3.1"/>
<path class="l" d="M163.6 587L165.7 587.6" stroke="#00db00" stroke-width="2.9"/>
<path class="l" d="M165.7 587.6L168.4 585.8" stroke="#00ad00" stroke-width="3.4"/>
<path class="l" d="M168.4 585.8L171 586.1" stroke="#00d900" stroke-width="2.9"/>
<path class="l" d="M171 586.1L173.7 587.5" stroke="#00c300" stroke-width="2.5"/>
<path class="l" d="M173.7 587.5L176.2 586.5" stroke="#00d900" stroke-width="2.9"/>
<path class="l" d="M176.2 586.5L178.4 587" stroke="#00ce00" stroke-width="3.5"/>
<path class="l" d="M178.4 587L181.3 585.6" stroke="#00ad00" stroke-width="2.9"/>
<path class="l" d="M181.3 585.6L183.6 584.2" stroke="#00ce00" stroke-width="2.7"/>
<path class="l" d="M183.6 584.2L186.6 585.2" stroke="#00d900" stroke-width="3.3"/>
<path class="l" d="M186.6 585.2L188.7 584.5" stroke="#00db00" stroke-width="3.2"/>
<path class="l" d="M188.7 584.5L191.2 586.5" stroke="#00db00" stroke-width="3.2"/>
<path class="l" d="M191.2 586.5L194.2 585.5" stroke="#00d900" stroke-width="3.7"/>
<path class="l" d="M194.2 585.5L196.8 583.7" stroke="#00db00" stroke-width="3.7"/>
<path class="l" d="M196.8 583.7L198.9 584.4" stroke="#00db00" stroke-width="3.5"/>
<path class="l" d="M198.9 584.4L201.6 585.1" stroke="#00ad00" stroke-width="3.3"/>
<path class="l" d="M201.6 585.1L204.5 584.5" stroke="#008d00" stroke-width="2.8"/>
<path class="l" d="M204.5 584.5L206.6 584.7" stroke="#00c300" stroke-width="3.1"/>
<path class="l" d="M206.6 584.7L209.8 584.3" stroke="#008e00" stroke-width="3.6"/>
<path class="l" d="M209.8 584.3L212.5 586.1" stroke="#00db00" stroke-width="2.8"/>
<path class="l" d="M212.5 586.1L215.8 587.7" stroke="#00cd00" stroke-width="3.2"/>
<path class="l" d="M215.8 587.7L218.5 586.2" stroke="#009500" stroke-width="3"/>
<path class="l" d="M218.5 586.2L220.6 586.1" stroke="#00cf00" stroke-width="3.1"/>
<path class="l" d="M220.6 586.1L223 588.7" stroke="#00da00" stroke-width="3.1"/>
<path class="l" d="M223 588.7L226.2 589.1" stroke="#00db00" stroke-width="3.8"/>
<path class="l" d="M226.2 589.1L228 588.5" stroke="#009400" stroke-width="3.3"/>
<path class="l" d="M228 588.5L231 589.4" stroke="#00db00" stroke-width="3.5"/>
<path class="l" d="M231 589.4L233.4 589.9" stroke="#00db00" stroke-width="3.1"/>
<path class="l" d="M233.4 589.9L236 589.7" stroke="#00cf00" stroke-width="3.1"/>
<path class="l" d="M236 589.7L239.2 589.3" stroke="#00c500" stroke-width="2.5"/>
<path class="l" d="M239.2 589.3L242 590.6" stroke="#00c900" stroke-width="3.6"/>
<path class="l" d="M242 590.6L244.6 592.3" stroke="#00db00" stroke-width="3.4"/>
<path class="l" d="M244.6 592.3L247.3 591.4" stroke="#00b800" stroke-width="2.5"/>
<path class="l" d="M247.3 591.4L250.2 592.9" stroke="#009500" stroke-width="2.9"/>
<path class="l" d="M250.2 592.9L252.3 592.8" stroke="#00b800" stroke-width="3.3"/>
<path class="l" d="M252.3 592.8L255 593.5" stroke="#00da00" stroke-width="3.5"/>
<path class="l" d="M255 593.5L257.6 593.1" stroke="#00db00" stroke-width="2.5"/>
<path class="l" d="M257.6 593.1L259.8 592.6" stroke="#00db00" stroke-width="2.5"/>
<path class="l" d="M259.8 592.6L262.6 593.2" stroke="#00cf00" stroke-width="2.9"/>
<path class="l" d="M262.6 593.2L265.6 593.6" stroke="#00db00" stroke-width="3.3"/>
<path class="l" d="M265.6 593.6L268 594.6" stroke="#00db00" stroke-width="3"/>
<path class="l" d="M268 594.6L270.2 592" stroke="#00db00" stroke-width="3"/>
<path class="l" d="M270.2 592L272.8 591.7" stroke="#00db00" stroke-width="2.9"/>
<path class="l" d="M272.8 591.7L275.5 592.3" stroke="#009500" stroke-width="3.6"/>
<path class="l" d="M275.5 592.3L277.8 593.6" stroke="#00b800" stroke-width="2.6"/>
<path class="l" d="M277.8 593.6L280.7 591.6" stroke="#00da00" stroke-width="2.7"/>
<path class="l" d="M280.7 591.6L283.1 591.5" stroke="#009500" stroke-width="3.2"/>
<path class="l" d="M283.1 591.5L285.7 591.7" stroke="#00db00" stroke-width="3.4"/>
<path class="l" d="M285.7 591.7L288.6 592.1" stroke="#009500" stroke-width="3.2"/>
<path class="l" d="M288.6 592.1L291.2 592.8" stroke="#00db00" stroke-width="3.6"/>
<path class="l" d="M291.2 592.8L293.7 592.2" stroke="#00db00" stroke-width="3.9"/>
<path class="l" d="M293.7 592.2L296.1 592.6" stroke="#00db00" stroke-width="3.8"/>
<path class="l" d="M296.1 592.6L298.4 591.5" stroke="#00db00" stroke-width="2.7"/>
<path class="l" d="M298.4 591.5L301.1 590.2" stroke="#00db00" stroke-width="3.8"/>
<path class="l" d="M301.1 590.2L303.7 591.1" stroke="#00db00" stroke-width="2.7"/>
<path class="l" d="M303.7 591.1L306.4 591" stroke="#00c500" stroke-width="2.5"/>
<path class="l" d="M306.4 591L309.3 590.4" stroke="#00db00" stroke-width="3.2"/>
<path class="l" d="M309.3 590.4L312.3 587.7" stroke="#00d400" stroke-width="2.8"/>
<path class="l" d="M312.3 587.7L315 588.1" stroke="#00cd00" stroke-width="2.8"/>
<path class="l" d="M315 588.1L318.1 587.9" stroke="#00db00" stroke-width="3.5"/>
<path class="l" d="M318.1 587.9L320.9 586.2" stroke="#00db00" stroke-width="3.5"/>
<path class="l" d="M320.9 586.2L323.8 583.8" stroke="#00cf00" stroke-width="2.5"/>
<path class="l" d="M323.8 583.8L326.2 586.9" stroke="#00db00" stroke-width="2.8"/>
<path class="l" d="M326.2 586.9L329.3 583.9" stroke="#00da00" stroke-width="3.2"/>
<path class="l" d="M329.3 583.9L332.2 585.4" stroke="#00db00" stroke-width="2.6"/>
<path class="l" d="M332.2 585.4L335 584.6" stroke="#009500" stroke-width="2.8"/>
<path class="l" d="M335 584.6L337.5 583.5" stroke="#00d800" stroke-width="3.2"/>
<path class="l" d="M337.5 583.5L340.1 583.8" stroke="#00c800" stroke-width="3.2"/>
<path class="l" d="M340.1 583.8L343.2 585.9" stroke="#00d900" stroke-width="3.7"/>
<path class="l" d="M343.2 585.9L346.1 585.8" stroke="#00db00" stroke-width="3.7"/>
<path class="l" d="M346.1 585.8L348.7 585.7" stroke="#00c400" stroke-width="3.3"/>
<path class="l" d="M348.7 585.7L351.1 585.3" stroke="#00b500" stroke-width="2.5"/>
<path class="l" d="M351.1 585.3L353.9 587.1" stroke="#008000" stroke-width="2.9"/>
<path class="l" d="M353.9 587.1L357.2 585.6" stroke="#00ac00" stroke-width="3.3"/>
<path class="l" d="M357.2 585.6L359.4 585.7" stroke="#00ba00" stroke-width="3.1"/>
<path class="l" d="M359.4 585.7L362.6 585.6" stroke="#00be00" stroke-width="3.1"/>
<path class="l" d="M362.6 585.6L365.4 586.2" stroke="#00b900" stroke-width="2.9"/>
<path class="l" d="M365.4 586.2L367.9 587.2" stroke="#008900" stroke-width="3.5"/>
<path class="l" d="M367.9 587.2L370.6 586.5" stroke="#00a600" stroke-width="3.6"/>
<path class="l" d="M370.6 586.5L373.7 586.5" stroke="#009100" stroke-width="3.2"/>
<path class="l" d="M373.7 586.5L376.1 587.1" stroke="#006500" stroke-width="2.8"/>
<path class="l" d="M672.1 555.4L674.5 558.1" stroke="#00a400" stroke-width="2.5"/>
<path class="l" d="M674.5 558.1L676.1 558.2" stroke="#00d100" stroke-width="3.4"/>
<path class="l" d="M676.1 558.2L678.5 560.4" stroke="#008a00" stroke-width="3.2"/>
<path class="l" d="M678.5 560.4L680.6 561.8" stroke="#00d700" stroke-width="3.2"/>
<path class="l" d="M680.6 561.8L682.7 561.9" stroke="#00db00" stroke-width="3.7"/>
<path class="l" d="M682.7 561.9L685.3 564.5" stroke="#00d700" stroke-width="2.7"/>
<path class="l" d="M685.3 564.5L686.8 565.1" stroke="#00db00" stroke-width="3.3"/>
<path class="l" d="M686.8 565.1L689.3 566.7" stroke="#00db00" stroke-width="3.4"/>
<path class="l" d="M689.3 566.7L691.8 567.9" stroke="#00bf00" stroke-width="3.3"/>
<path class="l" d="M691.8 567.9L694.7 568.5" stroke="#00db00" stroke-width="3.4"/>
<path class="l" d="M694.7 568.5L697.5 569.1" stroke="#009400" stroke-width="2.7"/>
<path class="l" d="M697.5 569.1L700.1 568.7" stroke="#00b300" stroke-width="3"/>
<path class="l" d="M700.1 568.7L702.8 570.5" stroke="#00af00" stroke-width="3.4"/>
<path class="l" d="M702.8 570.5L705.5 569.2" stroke="#00db00" stroke-width="2.9"/>
<path class="l" d="M705.5 569.2L708.9 570.1" stroke="#00c300" stroke-width="3"/>
<path class="l" d="M708.9 570.1L711.5 568.7" stroke="#00c300" stroke-width="3.5"/>
<path class="l" d="M711.5 568.7L713.4 571.6" stroke="#00c300" stroke-width="3"/>
<path class="l" d="M713.4 571.6L715 573.3" stroke="#00ad00" stroke-width="2.5"/>
<path class="l" d="M715 573.3L717 575.3" stroke="#00c300" stroke-width="2.7"/>
<path class="l" d="M717 575.3L718.6 576.4" stroke="#00ad00" stroke-width="2.6"/>
<path class="l" d="M718.6 576.4L720.7 579.2" stroke="#00db00" stroke-width="3.4"/>
<path class="l" d="M720.7 579.2L723.2 579.7" stroke="#00b800" stroke-width="3.5"/>
<path class="l" d="M723.2 579.7L725.2 579.9" stroke="#00db00" stroke-width="3"/>
<path class="l" d="M725.2 579.9L727.8 580.1" stroke="#00d900" stroke-width="2.8"/>
<path class="l" d="M727.8 580.1L729.9 580.7" stroke="#00db00" stroke-width="3.1"/>
<path class="l" d="M729.9 580.7L732.4 579.7" stroke="#00db00" stroke-width="2.5"/>
<path class="l" d="M732.4 579.7L735 579.4" stroke="#00d000" stroke-width="2.5"/>
<path class="l" d="M735 581.1L737.3 581.2" stroke="#009500" stroke-width="3"/>
<path class="l" d="M737.3 581.2L739.7 582.2" stroke="#009500" stroke-width="2"/>
<path class="l" d="M739.7 582.2L742.2 582" stroke="#00db00" stroke-width="1.9"/>
<path class="l" d="M742.2 582L744.4 581" stroke="#00db00" stroke-width="2.7"/>
<path class="l" d="M744.4 581L746.9 581.3" stroke="#008f00" stroke-width="2.3"/>
<path class="l" d="M746.9 581.3L747.8 583.2" stroke="#00db00" stroke-width="2.9"/>
<path class="l" d="M747.8 583.2L749.3 584.6" stroke="#00c900" stroke-width="2.1"/>
<path class="l" d="M749.3 584.6L750.3 587.4" stroke="#00db00" stroke-width="2.7"/>
<path class="l" d="M750.3 587.4L751.1 584.1" stroke="#00da00" stroke-width="2.3"/>
<path class="l" d="M751.1 584.1L752.1 584" stroke="#00cf00" stroke-width="2.2"/>
<path class="l" d="M752.1 584L752.6 579.8" stroke="#00db00" stroke-width="2.8"/>
<path class="l" d="M752.6 579.8L754.2 577.4" stroke="#00db00" stroke-width="2.3"/>
<path class="l" d="M754.2 577.4L756 578.6" stroke="#00b600" stroke-width="2.7"/>
<path class="l" d="M756 578.6L758.6 581.2" stroke="#00db00" stroke-width="1.9"/>
<path class="l" d="M758.6 581.2L760.6 580.6" stroke="#00db00" stroke-width="2.9"/>
<path class="l" d="M760.6 580.6L763.6 581.5" stroke="#00d900" stroke-width="2.8"/>
<path class="l" d="M763.6 581.5L766.4 580.7" stroke="#00db00" stroke-width="2.5"/>
<path class="l" d="M766.4 580.7L768.9 582.2" stroke="#00db00" stroke-width="2.3"/>
<path class="l" d="M768.9 582.2L770.8 584.3" stroke="#00db00" stroke-width="2.3"/>
<path class="l" d="M770.8 584.3L772.9 585" stroke="#00ca00" stroke-width="2.3"/>
<path class="l" d="M772.9 585L774.5 587.5" stroke="#00c100" stroke-width="2.1"/>
<path class="l" d="M774.5 587.5L775.9 590.2" stroke="#00c000" stroke-width="2.7"/>
<path class="l" d="M775.9 590.2L779.4 590.3" stroke="#00a300" stroke-width="2.3"/>
<path class="l" d="M779.4 590.3L781.6 588.6" stroke="#00b900" stroke-width="2.9"/>
<path class="l" d="M781.6 588.6L784.3 588.7" stroke="#007b00" stroke-width="2.2"/>
<path class="l" d="M784.3 588.7L786.8 590.8" stroke="#00b300" stroke-width="2.9"/>
<path class="l" d="M786.8 590.8L788.3 590.9" stroke="#00ad00" stroke-width="2.3"/>
<path class="l" d="M788.3 590.9L789.1 588.8" stroke="#00bb00" stroke-width="2.1"/>
<path class="l" d="M789.1 588.8L790.7 589.7" stroke="#00b200" stroke-width="2.8"/>
<path class="l" d="M790.7 589.7L792.2 587" stroke="#007400" stroke-width="2.5"/>
<path class="l" d="M792.2 587L793 583.4" stroke="#00c400" stroke-width="2.7"/>
<path class="l" d="M793 583.4L795.9 584.5" stroke="#00a300" stroke-width="2.9"/>
<path class="l" d="M795.9 584.5L797.5 584.9" stroke="#00c200" stroke-width="2.8"/>
<path class="l" d="M797.5 584.9L800 585.8" stroke="#007b00" stroke-width="2.6"/>
<path class="l" d="M800 585.8L802.3 587.9" stroke="#00d200" stroke-width="2.1"/>
<path class="l" d="M802.3 587.9L804.7 589.5" stroke="#009900" stroke-width="2.1"/>
<path class="l" d="M804.7 589.5L807.1 592.1" stroke="#009900" stroke-width="2.1"/>
<path class="l" d="M807.1 592.1L809.6 588.5" stroke="#00ae00" stroke-width="2.5"/>
<path class="l" d="M809.6 588.5L811.2 586.8" stroke="#00c600" stroke-width="2.8"/>
<path class="l" d="M811.2 586.8L813.7 584" stroke="#00ca00" stroke-width="2.1"/>
<path class="l" d="M813.7 584L816.7 583.2" stroke="#00d900" stroke-width="2.7"/>
<path class="l" d="M816.7 583.2L819.3 582" stroke="#00b900" stroke-width="3"/>
<path class="l" d="M819.3 582L821.1 582.5" stroke="#007400" stroke-width="2.8"/>
<path class="l" d="M821.1 582.5L823.3 586.1" stroke="#00b200" stroke-width="2.4"/>
<path class="l" d="M823.3 586.1L825.9 586.3" stroke="#00aa00" stroke-width="2.3"/>
<path class="l" d="M825.9 586.3L827.4 587.8" stroke="#008d00" stroke-width="2.1"/>
<path class="l" d="M827.4 587.8L829.2 589.2" stroke="#00ac00" stroke-width="2.6"/>
<path class="l" d="M829.2 589.2L830.8 590.7" stroke="#006d00" stroke-width="2.3"/>
<path class="l" d="M830.8 590.7L832.7 592" stroke="#00b000" stroke-width="2"/>
<path class="l" d="M832.7 592L834.4 593.7" stroke="#009900" stroke-width="2"/>
<path class="l" d="M834.4 593.7L836.2 595.3" stroke="#00b600" stroke-width="2.9"/>
<path class="l" d="M836.2 595.3L837.6 597" stroke="#009f00" stroke-width="2.4"/>
<path class="l" d="M837.6 597L838.9 595.4" stroke="#009000" stroke-width="2.7"/>
<path class="l" d="M838.9 595.4L839.6 593.7" stroke="#00c200" stroke-width="2.8"/>
<path class="l" d="M839.6 593.7L840.7 590.6" stroke="#00c700" stroke-width="2.6"/>
<path class="l" d="M840.7 590.6L840.9 588.9" stroke="#00ae00" stroke-width="2"/>
<path class="l" d="M840.9 588.9L842.3 585" stroke="#00d900" stroke-width="2"/>
<path class="l" d="M842.3 585L843.2 584.5" stroke="#008300" stroke-width="2.6"/>
<path class="l" d="M843.2 584.5L845.8 585.6" stroke="#00b900" stroke-width="2.3"/>
<path class="l" d="M845.8 585.6L848.3 587.2" stroke="#00c100" stroke-width="2.4"/>
<path class="l" d="M848.3 587.2L850.6 587.4" stroke="#009200" stroke-width="2.3"/>
<path class="l" d="M850.6 587.4L853.5 590.7" stroke="#006600" stroke-width="2.9"/>
<path class="l" d="M853.5 590.7L855.8 590.5" stroke="#009900" stroke-width="3"/>
<path class="l" d="M855.8 590.5L857.8 588.1" stroke="#009100" stroke-width="2.7"/>
<path class="l" d="M857.8 588.1L859.7 588.2" stroke="#007a00" stroke-width="2.5"/>
<path class="l" d="M859.7 588.2L862.1 590.8" stroke="#00a500" stroke-width="2"/>
<path class="l" d="M862.1 590.8L864.6 591.7" stroke="#00b600" stroke-width="2.7"/>
<path class="l" d="M864.6 591.7L867.2 593.9" stroke="#00a600" stroke-width="2.6"/>
<path class="l" d="M867.2 593.9L867.1 591.2" stroke="#00c600" stroke-width="2.6"/>
<path class="l" d="M867.1 591.2L867.2 588.1" stroke="#00a500" stroke-width="2.7"/>
<path class="l" d="M867.2 588.1L867.5 586.5" stroke="#00b100" stroke-width="2.5"/>
<path class="l" d="M867.5 586.5L868 582.6" stroke="#00c700" stroke-width="2.6"/>
<path class="l" d="M868 582.6L869.6 584.7" stroke="#00a800" stroke-width="2.8"/>
<path class="l" d="M869.6 584.7L871.7 584.4" stroke="#00bb00" stroke-width="2.9"/>
<path class="l" d="M871.7 584.4L873.8 586.5" stroke="#00aa00" stroke-width="1.9"/>
<path class="l" d="M873.8 586.5L876.3 586.5" stroke="#008500" stroke-width="2.6"/>
<path class="l" d="M876.3 586.5L878.2 587.8" stroke="#009500" stroke-width="3"/>
<path class="l" d="M878.2 587.8L880.7 588.7" stroke="#009500" stroke-width="2.8"/>
<path class="l" d="M880.7 588.7L882.7 588.1" stroke="#008500" stroke-width="2.3"/>
<path class="l" d="M882.7 588.1L885.6 591.1" stroke="#00b600" stroke-width="2.6"/>
<path class="l" d="M885.6 591.1L887.5 590.7" stroke="#00a600" stroke-width="2.6"/>
<path class="l" d="M887.5 590.7L890.1 590.6" stroke="#008300" stroke-width="1.9"/>
<path class="l" d="M890.1 590.6L891.7 589.9" stroke="#008f00" stroke-width="2.7"/>
<path class="l" d="M891.7 589.9L894.4 591" stroke="#008c00" stroke-width="2.5"/>
<path class="l" d="M894.4 591L897 589" stroke="#007c00" stroke-width="2.8"/>
<path class="l" d="M897 589L898.9 587.6" stroke="#009f00" stroke-width="2.6"/>
<path class="l" d="M898.9 587.6L901.2 588.6" stroke="#00b400" stroke-width="2.6"/>
<path class="l" d="M901.2 588.6L903.3 588.3" stroke="#00b600" stroke-width="2.7"/>
<path class="l" d="M903.3 588.3L905.5 588.9" stroke="#006c00" stroke-width="2.2"/>
<path class="l" d="M905.5 588.9L908.2 589.3" stroke="#006c00" stroke-width="2.9"/>
<path class="l" d="M908.2 589.3L910.3 589.9" stroke="#00a800" stroke-width="2.8"/>
<path class="l" d="M910.3 589.9L912.3 591.2" stroke="#00a400" stroke-width="2"/>
<path class="l" d="M912.3 591.2L914.6 589.4" stroke="#00b900" stroke-width="2.6"/>
<path class="l" d="M914.6 589.4L917.1 589.7" stroke="#007300" stroke-width="2.1"/>
<path class="l" d="M917.1 589.7L919.5 589.9" stroke="#00a400" stroke-width="2.4"/>
<path class="l" d="M919.5 589.9L921.8 588.6" stroke="#008600" stroke-width="2.4"/>
<path class="l" d="M921.8 588.6L924.1 588.7" stroke="#00ac00" stroke-width="2.1"/>
<path class="l" d="M924.1 588.7L926.6 591" stroke="#009700" stroke-width="2.5"/>
<path class="l" d="M926.6 591L929 593.5" stroke="#008c00" stroke-width="2.9"/>
<path class="l" d="M929 593.5L930.9 591.1" stroke="#007a00" stroke-width="2.5"/>
<path class="l" d="M930.9 591.1L932.7 588.5" stroke="#00a800" stroke-width="2.2"/>
<path class="l" d="M932.7 588.5L935 587.1" stroke="#008a00" stroke-width="2.6"/>
<path class="l" d="M751.3 575.1L751.1 577.3" stroke="#007200" stroke-width="1.5"/>
<path class="l" d="M751.1 577.3L751.1 578.8" stroke="#006400" stroke-width="1.9"/>
<path class="l" d="M751.1 578.8L751 582.5" stroke="#007800" stroke-width="1.3"/>
<path class="l" d="M751 582.5L751.6 585.1" stroke="#007600" stroke-width="1.8"/>
<path class="l" d="M751.6 585.1L750.9 587.7" stroke="#007400" stroke-width="1.6"/>
<path class="l" d="M750.9 587.7L751.5 591.6" stroke="#006c00" stroke-width="1.4"/>
<path class="l" d="M751.5 591.6L751.2 593.4" stroke="#006a00" stroke-width="1.2"/>
<path class="l" d="M751.2 593.4L751.6 594.8" stroke="#005e00" stroke-width="1.5"/>
<path class="l" d="M751.6 594.8L751.1 599.2" stroke="#005700" stroke-width="1.8"/>
<path class="l" d="M751.1 599.2L750.9 601.4" stroke="#003d00" stroke-width="1.7"/>
<path class="l" d="M750.9 601.4L751 604.3" stroke="#004a00" stroke-width="1.6"/>
<path class="l" d="M751 604.3L751.3 606" stroke="#005a00" stroke-width="1.4"/>
<path class="l" d="M135 686.1L137.9 686.9" stroke="#008600" stroke-width="2.1"/>
<path class="l" d="M137.9 686.9L140.3 687.4" stroke="#00d100" stroke-width="3"/>
<path class="l" d="M140.3 687.4L142.6 688.1" stroke="#00aa00" stroke-width="2.7"/>
<path class="l" d="M142.6 688.1L145.4 688.7" stroke="#00db00" stroke-width="3.1"/>
<path class="l" d="M145.4 688.7L147.5 689" stroke="#00d900" stroke-width="2.5"/>
<path class="l" d="M147.5 689L150.4 689.8" stroke="#00db00" stroke-width="2"/>
<path class="l" d="M150.4 689.8L153.3 690.2" stroke="#00ad00" stroke-width="2.7"/>
<path class="l" d="M153.3 690.2L155.8 690.9" stroke="#00d900" stroke-width="2.5"/>
<path class="l" d="M155.8 690.9L157.8 689.8" stroke="#00cc00" stroke-width="2.5"/>
<path class="l" d="M157.8 689.8L160.5 691.3" stroke="#00c900" stroke-width="2.4"/>
<path class="l" d="M160.5 691.3L163.4 692" stroke="#00d100" stroke-width="3"/>
<path class="l" d="M163.4 692L165.6 690.8" stroke="#00ce00" stroke-width="2.5"/>
<path class="l" d="M165.6 690.8L168.8 691.8" stroke="#00db00" stroke-width="2.9"/>
<path class="l" d="M168.8 691.8L170.9 691.4" stroke="#008500" stroke-width="3.1"/>
<path class="l" d="M170.9 691.4L173.5 689.7" stroke="#00db00" stroke-width="2.8"/>
<path class="l" d="M173.5 689.7L176 690" stroke="#00a300" stroke-width="2.1"/>
<path class="l" d="M176 690L178.9 690.5" stroke="#00c300" stroke-width="2.5"/>
<path class="l" d="M178.9 690.5L181.2 691" stroke="#00d100" stroke-width="2.6"/>
<path class="l" d="M181.2 691L184.2 688.4" stroke="#00db00" stroke-width="2.9"/>
<path class="l" d="M184.2 688.4L186.4 688.8" stroke="#00db00" stroke-width="2.2"/>
<path class="l" d="M186.4 688.8L188.8 688.7" stroke="#00c300" stroke-width="2.9"/>
<path class="l" d="M188.8 688.7L191.3 688.9" stroke="#00c300" stroke-width="2.9"/>
<path class="l" d="M191.3 688.9L194 688.4" stroke="#00ad00" stroke-width="2.8"/>
<path class="l" d="M194 688.4L197 687.1" stroke="#00db00" stroke-width="2.8"/>
<path class="l" d="M197 687.1L199.1 688" stroke="#00c300" stroke-width="2.7"/>
<path class="l" d="M199.1 688L201.6 687.6" stroke="#00ce00" stroke-width="2.3"/>
<path class="l" d="M201.6 687.6L204.5 687.6" stroke="#00db00" stroke-width="2.7"/>
<path class="l" d="M204.5 687.6L207.3 688.9" stroke="#00d900" stroke-width="2.2"/>
<path class="l" d="M207.3 688.9L209.7 688.1" stroke="#008d00" stroke-width="2.8"/>
<path class="l" d="M209.7 688.1L212.3 688.3" stroke="#00db00" stroke-width="2.1"/>
<path class="l" d="M212.3 688.3L215.8 687.6" stroke="#00db00" stroke-width="2.3"/>
<path class="l" d="M215.8 687.6L218.2 688.8" stroke="#00cc00" stroke-width="3"/>
<path class="l" d="M218.2 688.8L220.4 689.6" stroke="#00bf00" stroke-width="2.6"/>
<path class="l" d="M220.4 689.6L223 691.9" stroke="#00c600" stroke-width="2.5"/>
<path class="l" d="M223 691.9L226.1 690.3" stroke="#00b900" stroke-width="2"/>
<path class="l" d="M226.1 690.3L228.6 691.3" stroke="#00a300" stroke-width="2.3"/>
<path class="l" d="M228.6 691.3L231.2 691.9" stroke="#008500" stroke-width="2.9"/>
<path class="l" d="M231.2 691.9L233.7 691.3" stroke="#00d600" stroke-width="2.1"/>
<path class="l" d="M233.7 691.3L236.3 693.4" stroke="#00b800" stroke-width="2.7"/>
<path class="l" d="M236.3 693.4L238.5 693.9" stroke="#008500" stroke-width="3"/>
<path class="l" d="M238.5 693.9L240.9 696" stroke="#00d600" stroke-width="2.7"/>
<path class="l" d="M240.9 696L242.9 694" stroke="#00a300" stroke-width="2.5"/>
<path class="l" d="M242.9 694L245.8 694.1" stroke="#00cc00" stroke-width="2.2"/>
<path class="l" d="M245.8 694.1L247.9 694.4" stroke="#00a300" stroke-width="2.2"/>
<path class="l" d="M247.9 694.4L249.9 695.7" stroke="#008500" stroke-width="2.8"/>
<path class="l" d="M249.9 695.7L252.7 693.8" stroke="#00cc00" stroke-width="2.9"/>
<path class="l" d="M252.7 693.8L254.6 694.2" stroke="#00cc00" stroke-width="2.3"/>
<path class="l" d="M254.6 694.2L257.8 692.7" stroke="#00b900" stroke-width="2.3"/>
<path class="l" d="M257.8 692.7L259.8 692.9" stroke="#00d100" stroke-width="2.8"/>
<path class="l" d="M259.8 692.9L262.9 693.2" stroke="#00db00" stroke-width="2.5"/>
<path class="l" d="M262.9 693.2L265.4 693" stroke="#00ac00" stroke-width="2.4"/>
<path class="l" d="M265.4 693L267.5 692.9" stroke="#00d900" stroke-width="3"/>
<path class="l" d="M267.5 692.9L270.8 693.8" stroke="#00db00" stroke-width="2.9"/>
<path class="l" d="M270.8 693.8L273.2 691.9" stroke="#00c300" stroke-width="2.6"/>
<path class="l" d="M273.2 691.9L275.4 692.3" stroke="#008d00" stroke-width="2.4"/>
<path class="l" d="M275.4 692.3L278 691.6" stroke="#00d900" stroke-width="2.3"/>
<path class="l" d="M278 691.6L280.4 690.3" stroke="#008d00" stroke-width="2.2"/>
<path class="l" d="M280.4 690.3L283.5 691.1" stroke="#008d00" stroke-width="2.2"/>
<path class="l" d="M283.5 691.1L286 691.3" stroke="#008d00" stroke-width="2.3"/>
<path class="l" d="M286 691.3L288.3 691.8" stroke="#008d00" stroke-width="2.5"/>
<path class="l" d="M288.3 691.8L290.8 690.1" stroke="#00ad00" stroke-width="2.7"/>
<path class="l" d="M290.8 690.1L293.5 690.6" stroke="#00db00" stroke-width="3.1"/>
<path class="l" d="M293.5 690.6L296 690.6" stroke="#00db00" stroke-width="2.2"/>
<path class="l" d="M296 690.6L299 689.9" stroke="#00cf00" stroke-width="2.1"/>
<path class="l" d="M299 689.9L301.1 689.9" stroke="#00d200" stroke-width="2.6"/>
<path class="l" d="M301.1 689.9L303.8 689.6" stroke="#00b400" stroke-width="2.8"/>
<path class="l" d="M303.8 689.6L306.4 690" stroke="#00b600" stroke-width="2.4"/>
<path class="l" d="M306.4 690L309.5 688.7" stroke="#00da00" stroke-width="2.8"/>
<path class="l" d="M309.5 688.7L312 689.8" stroke="#00db00" stroke-width="2.8"/>
<path class="l" d="M312 689.8L315 688.8" stroke="#00b800" stroke-width="2.9"/>
<path class="l" d="M315 688.8L317.6 688" stroke="#00b800" stroke-width="2.9"/>
<path class="l" d="M317.6 688L320.5 688.8" stroke="#009500" stroke-width="2.2"/>
<path class="l" d="M320.5 688.8L323.9 686.9" stroke="#00cf00" stroke-width="2.5"/>
<path class="l" d="M323.9 686.9L326.2 688.9" stroke="#00db00" stroke-width="2.8"/>
<path class="l" d="M326.2 688.9L329.4 688.6" stroke="#009200" stroke-width="2.3"/>
<path class="l" d="M329.4 688.6L332.1 690.4" stroke="#009000" stroke-width="2.2"/>
<path class="l" d="M332.1 690.4L335 689.6" stroke="#008e00" stroke-width="2.6"/>
<path class="l" d="M335 690.4L337.9 691.3" stroke="#00ce00" stroke-width="2.3"/>
<path class="l" d="M337.9 691.3L340.4 691.2" stroke="#00ce00" stroke-width="2.1"/>
<path class="l" d="M340.4 691.2L342.4 691.7" stroke="#00c300" stroke-width="2.8"/>
<path class="l" d="M342.4 691.7L345.1 693.4" stroke="#00c300" stroke-width="2.6"/>
<path class="l" d="M345.1 693.4L348.4 692.1" stroke="#00db00" stroke-width="3.2"/>
<path class="l" d="M348.4 692.1L350.9 692.7" stroke="#00d900" stroke-width="2.6"/>
<path class="l" d="M350.9 692.7L354.2 692.9" stroke="#00ad00" stroke-width="2.3"/>
<path class="l" d="M354.2 692.9L356.3 690.8" stroke="#00ac00" stroke-width="2.7"/>
<path class="l" d="M356.3 690.8L358.5 690.2" stroke="#00d400" stroke-width="3.1"/>
<path class="l" d="M358.5 690.2L360.2 689.2" stroke="#00d100" stroke-width="2.2"/>
<path class="l" d="M360.2 689.2L362.2 689.2" stroke="#00c300" stroke-width="3.1"/>
<path class="l" d="M362.2 689.2L364.2 687.3" stroke="#00c600" stroke-width="2.9"/>
<path class="l" d="M364.2 687.3L367 687.5" stroke="#00b000" stroke-width="2.4"/>
<path class="l" d="M367 687.5L369 684.3" stroke="#009b00" stroke-width="2.8"/>
<path class="l" d="M369 684.3L371 685.3" stroke="#009f00" stroke-width="2.6"/>
<path class="l" d="M689.2 671.6L692 670.2" stroke="#00b200" stroke-width="3.6"/>
<path class="l" d="M692 670.2L695 670.3" stroke="#008500" stroke-width="3.6"/>
<path class="l" d="M695 670.3L697.9 670" stroke="#00db00" stroke-width="2.7"/>
<path class="l" d="M697.9 670L700.6 669.3" stroke="#009700" stroke-width="3.5"/>
<path class="l" d="M700.6 669.3L703.2 671.4" stroke="#00db00" stroke-width="2.9"/>
<path class="l" d="M703.2 671.4L706.6 669.7" stroke="#00db00" stroke-width="2.9"/>
<path class="l" d="M706.6 669.7L708.6 671.1" stroke="#00db00" stroke-width="3.2"/>
<path class="l" d="M708.6 671.1L710.9 672" stroke="#00b800" stroke-width="3.7"/>
<path class="l" d="M710.9 672L713.2 672.7" stroke="#00b100" stroke-width="3.5"/>
<path class="l" d="M713.2 672.7L715.3 673.6" stroke="#00c500" stroke-width="3.6"/>
<path class="l" d="M715.3 673.6L716.8 676.2" stroke="#00db00" stroke-width="3.6"/>
<path class="l" d="M716.8 676.2L718.6 678.3" stroke="#00cd00" stroke-width="3.4"/>
<path class="l" d="M718.6 678.3L720.8 678.9" stroke="#00db00" stroke-width="2.6"/>
<path class="l" d="M720.8 678.9L723.4 682.2" stroke="#00db00" stroke-width="3"/>
<path class="l" d="M723.4 682.2L726.4 681.9" stroke="#00db00" stroke-width="3.4"/>
<path class="l" d="M726.4 681.9L729.4 680.7" stroke="#00db00" stroke-width="3.5"/>
<path class="l" d="M729.4 680.7L731.9 680" stroke="#00db00" stroke-width="3.2"/>
<path class="l" d="M731.9 680L735 680.1" stroke="#00db00" stroke-width="2.4"/>
<path class="l" d="M735 676.7L737.6 677.4" stroke="#00db00" stroke-width="2"/>
<path class="l" d="M737.6 677.4L739.9 678.4" stroke="#00db00" stroke-width="2.3"/>
<path class="l" d="M739.9 678.4L741.5 677.9" stroke="#00d000" stroke-width="2.5"/>
<path class="l" d="M741.5 677.9L743.7 679.3" stroke="#008300" stroke-width="1.8"/>
<path class="l" d="M743.7 679.3L745.9 680.4" stroke="#00d600" stroke-width="2.6"/>
<path class="l" d="M745.9 680.4L748.6 681.7" stroke="#00cf00" stroke-width="2.4"/>
<path class="l" d="M748.6 681.7L750.8 681.5" stroke="#00c800" stroke-width="2.4"/>
<path class="l" d="M750.8 681.5L752.4 683" stroke="#00a700" stroke-width="2.3"/>
<path class="l" d="M752.4 683L754.5 684.5" stroke="#00a900" stroke-width="1.8"/>
<path class="l" d="M754.5 684.5L756.7 688.1" stroke="#009200" stroke-width="2.4"/>
<path class="l" d="M756.7 688.1L759.2 688.6" stroke="#007d00" stroke-width="2.1"/>
<path class="l" d="M759.2 688.6L761.2 689.3" stroke="#00a100" stroke-width="2.7"/>
<path class="l" d="M761.2 689.3L763.5 689.6" stroke="#009900" stroke-width="2.5"/>
<path class="l" d="M763.5 689.6L765.7 689.9" stroke="#00a100" stroke-width="2.4"/>
<path class="l" d="M765.7 689.9L768.6 691.3" stroke="#006600" stroke-width="1.9"/>
<path class="l" d="M768.6 691.3L772.1 691.9" stroke="#00ab00" stroke-width="1.8"/>
<path class="l" d="M772.1 691.9L772.2 689.2" stroke="#00b300" stroke-width="2.7"/>
<path class="l" d="M772.2 689.2L772.7 686.3" stroke="#00a300" stroke-width="2.7"/>
<path class="l" d="M772.7 686.3L773 683.7" stroke="#00bf00" stroke-width="2.4"/>
<path class="l" d="M773 683.7L773.6 680.7" stroke="#00b500" stroke-width="2.6"/>
<path class="l" d="M773.6 680.7L773.6 679.8" stroke="#00db00" stroke-width="2.1"/>
<path class="l" d="M773.6 679.8L773.9 682.1" stroke="#00d900" stroke-width="2.3"/>
<path class="l" d="M773.9 682.1L774.9 685.2" stroke="#00c300" stroke-width="2.4"/>
<path class="l" d="M774.9 685.2L775.7 688.6" stroke="#00d900" stroke-width="2.2"/>
<path class="l" d="M775.7 688.6L776.3 690.4" stroke="#00d900" stroke-width="2.4"/>
<path class="l" d="M776.3 690.4L778.2 689" stroke="#00a500" stroke-width="2.5"/>
<path class="l" d="M778.2 689L779.7 685.7" stroke="#00b900" stroke-width="2.5"/>
<path class="l" d="M779.7 685.7L781.5 683.6" stroke="#00ac00" stroke-width="2.2"/>
<path class="l" d="M781.5 683.6L783.7 683.6" stroke="#00a800" stroke-width="2.3"/>
<path class="l" d="M783.7 683.6L786.2 686.6" stroke="#008a00" stroke-width="1.8"/>
<path class="l" d="M786.2 686.6L787.9 686.9" stroke="#009100" stroke-width="2.4"/>
<path class="l" d="M787.9 686.9L790 690" stroke="#006300" stroke-width="2"/>
<path class="l" d="M790 690L792.7 691.6" stroke="#00a800" stroke-width="2.6"/>
<path class="l" d="M792.7 691.6L795.1 692.5" stroke="#009900" stroke-width="1.8"/>
<path class="l" d="M795.1 692.5L797.7 694.2" stroke="#009900" stroke-width="2.1"/>
<path class="l" d="M797.7 694.2L800.3 693.3" stroke="#009900" stroke-width="2"/>
<path class="l" d="M800.3 693.3L801 692.4" stroke="#009600" stroke-width="2.6"/>
<path class="l" d="M801 692.4L801.8 689.5" stroke="#008700" stroke-width="1.8"/>
<path class="l" d="M801.8 689.5L802.3 686.4" stroke="#00c400" stroke-width="1.9"/>
<path class="l" d="M802.3 686.4L802.8 684.5" stroke="#00aa00" stroke-width="2.7"/>
<path class="l" d="M802.8 684.5L803.5 681.8" stroke="#00bd00" stroke-width="2"/>
<path class="l" d="M803.5 681.8L804 684" stroke="#00cc00" stroke-width="2.7"/>
<path class="l" d="M804 684L804.3 686.3" stroke="#00cc00" stroke-width="2.6"/>
<path class="l" d="M804.3 686.3L804.9 688.3" stroke="#00cc00" stroke-width="2.5"/>
<path class="l" d="M804.9 688.3L808.2 688.1" stroke="#00d600" stroke-width="2.5"/>
<path class="l" d="M808.2 688.1L810.7 686.5" stroke="#00af00" stroke-width="1.9"/>
<path class="l" d="M810.7 686.5L813 688.8" stroke="#006a00" stroke-width="2"/>
<path class="l" d="M813 688.8L814.7 691.1" stroke="#00a700" stroke-width="2.6"/>
<path class="l" d="M814.7 691.1L817.5 690.9" stroke="#00a300" stroke-width="2.6"/>
<path class="l" d="M817.5 690.9L819.9 692.5" stroke="#008a00" stroke-width="2.3"/>
<path class="l" d="M819.9 692.5L821.8 692.4" stroke="#00a100" stroke-width="2.5"/>
<path class="l" d="M821.8 692.4L824.4 693.3" stroke="#008a00" stroke-width="2.2"/>
<path class="l" d="M824.4 693.3L826.7 694.6" stroke="#00ab00" stroke-width="2.3"/>
<path class="l" d="M826.7 694.6L829 693.3" stroke="#006800" stroke-width="2.1"/>
<path class="l" d="M829 693.3L830.9 694.8" stroke="#00ac00" stroke-width="2.4"/>
<path class="l" d="M830.9 694.8L831.8 691.8" stroke="#009500" stroke-width="2.5"/>
<path class="l" d="M831.8 691.8L833.3 689.7" stroke="#009d00" stroke-width="2.3"/>
<path class="l" d="M833.3 689.7L834.6 687.3" stroke="#006c00" stroke-width="2.4"/>
<path class="l" d="M834.6 687.3L836.8 688" stroke="#00a700" stroke-width="2.4"/>
<path class="l" d="M836.8 688L838.9 687.4" stroke="#008b00" stroke-width="1.9"/>
<path class="l" d="M838.9 687.4L841.3 687.8" stroke="#007f00" stroke-width="2"/>
<path class="l" d="M841.3 687.8L843.5 689.8" stroke="#008600" stroke-width="2.4"/>
<path class="l" d="M843.5 689.8L845.6 689.9" stroke="#008000" stroke-width="2.3"/>
<path class="l" d="M845.6 689.9L847.9 692" stroke="#008000" stroke-width="1.8"/>
<path class="l" d="M847.9 692L850.5 690.3" stroke="#005400" stroke-width="1.9"/>
<path class="l" d="M850.5 690.3L852.5 688.5" stroke="#006b00" stroke-width="2.7"/>
<path class="l" d="M852.5 688.5L854.6 687.8" stroke="#005a00" stroke-width="2"/>
<path class="l" d="M854.6 687.8L857.3 688.3" stroke="#008c00" stroke-width="2.6"/>
<path class="l" d="M857.3 688.3L859.7 689.9" stroke="#009a00" stroke-width="2.2"/>
<path class="l" d="M859.7 689.9L861.9 690" stroke="#005b00" stroke-width="2.6"/>
<path class="l" d="M861.9 690L863.8 689.2" stroke="#006f00" stroke-width="1.8"/>
<path class="l" d="M863.8 689.2L866.7 688.4" stroke="#009300" stroke-width="1.8"/>
<path class="l" d="M866.7 688.4L868.9 686.6" stroke="#006800" stroke-width="2.3"/>
<path class="l" d="M868.9 686.6L871.2 686.2" stroke="#006800" stroke-width="1.8"/>
<path class="l" d="M871.2 686.2L873.6 688.8" stroke="#007800" stroke-width="2.3"/>
<path class="l" d="M873.6 688.8L875.4 689.2" stroke="#007c00" stroke-width="2.4"/>
<path class="l" d="M875.4 689.2L877.7 688.9" stroke="#007c00" stroke-width="2.6"/>
<path class="l" d="M877.7 688.9L880.2 690.4" stroke="#005700" stroke-width="1.8"/>
<path class="l" d="M880.2 690.4L882.3 690.6" stroke="#005400" stroke-width="2.3"/>
<path class="l" d="M882.3 690.6L884.3 689.9" stroke="#007300" stroke-width="2.7"/>
<path class="l" d="M884.3 689.9L886.7 691.7" stroke="#008c00" stroke-width="1.8"/>
<path class="l" d="M886.7 691.7L889.5 692.5" stroke="#007900" stroke-width="2.7"/>
<path class="l" d="M889.5 692.5L891.8 691.6" stroke="#007b00" stroke-width="2"/>
<path class="l" d="M891.8 691.6L893.8 691.2" stroke="#005c00" stroke-width="2.1"/>
<path class="l" d="M893.8 691.2L895.8 689" stroke="#006a00" stroke-width="1.9"/>
<path class="l" d="M895.8 689L898 690.8" stroke="#005300" stroke-width="2"/>
<path class="l" d="M898 690.8L900 693.2" stroke="#006b00" stroke-width="2.4"/>
<path class="l" d="M900 693.2L902.3 694.6" stroke="#005800" stroke-width="2.5"/>
<path class="l" d="M902.3 694.6L903.5 695.9" stroke="#007700" stroke-width="2.4"/>
<path class="l" d="M903.5 695.9L905.1 694.7" stroke="#007000" stroke-width="2.4"/>
<path class="l" d="M905.1 694.7L906 691" stroke="#006900" stroke-width="2.4"/>
<path class="l" d="M906 691L908.5 691.5" stroke="#006000" stroke-width="2.3"/>
<path class="l" d="M908.5 691.5L910.6 689.5" stroke="#006d00" stroke-width="2.4"/>
<path class="l" d="M910.6 689.5L913 688.4" stroke="#008100" stroke-width="2.7"/>
<path class="l" d="M913 688.4L915.3 690" stroke="#008000" stroke-width="2"/>
<path class="l" d="M915.3 690L917.8 689.2" stroke="#007300" stroke-width="2"/>
<path class="l" d="M917.8 689.2L920.3 688.2" stroke="#007900" stroke-width="2.5"/>
<path class="l" d="M920.3 688.2L922.1 688.9" stroke="#007700" stroke-width="1.8"/>
<path class="l" d="M922.1 688.9L924.5 689.5" stroke="#006100" stroke-width="2.6"/>
<path class="l" d="M924.5 689.5L927.1 690.3" stroke="#006900" stroke-width="2.1"/>
<path class="l" d="M927.1 690.3L929.5 691.2" stroke="#005c00" stroke-width="2.3"/>
<path class="l" d="M929.5 691.2L932 690.6" stroke="#004b00" stroke-width="2.5"/>
<path class="l" d="M932 690.6L935 690.4" stroke="#006700" stroke-width="2.3"/>
</g></g>
</g></g>
<text class="tt" x="536.5" y="55.6" text-anchor="middle" xml:space="preserve">f=3.59 MHz;  lat=49.13; long=13.58, time=0 is at 2026 02 24 00:00</text>
<text class="tk" x="234.4" y="818.4" text-anchor="middle">1</text>
<text class="tk" x="334.8" y="818.4" text-anchor="middle">2</text>
<text class="tk" x="435.1" y="818.4" text-anchor="middle">3</text>
<text class="tk" x="535.5" y="818.4" text-anchor="middle">4</text>
<text class="tk" x="635.9" y="818.4" text-anchor="middle">5</text>
<text class="tk" x="736.2" y="818.4" text-anchor="middle">6</text>
<text class="tk" x="836.6" y="818.4" text-anchor="middle">7</text>
<text class="tk" x="937.7" y="818.4" text-anchor="middle">8</text>
<text class="tk" x="123.3" y="158.7" text-anchor="end">10</text>
<text class="tk" x="123.3" y="295.8" text-anchor="end">5</text>
<text class="tk" x="123.3" y="432.9" text-anchor="end">0</text>
<text class="tk" x="123.3" y="570" text-anchor="end">-5</text>
<text class="tk" x="123.3" y="707.1" text-anchor="end">-10</text>
<text class="lb" x="537" y="858.8" text-anchor="middle">hour of day [UT]</text>
<text class="lb" transform="translate(67.7 422.5) rotate(-90)" text-anchor="middle">frequency [Hz]</text>
<g shape-rendering="crispEdges"><rect x="968" y="767.4" width="45" height="11.1" fill="rgb(0,0,143)"/><rect x="968" y="756.2" width="45" height="12.1" fill="rgb(0,0,159)"/><rect x="968" y="745.1" width="45" height="12.1" fill="rgb(0,0,175)"/><rect x="968" y="733.9" width="45" height="12.1" fill="rgb(0,0,191)"/><rect x="968" y="722.8" width="45" height="12.1" fill="rgb(0,0,207)"/><rect x="968" y="711.6" width="45" height="12.1" fill="rgb(0,0,223)"/><rect x="968" y="700.5" width="45" height="12.1" fill="rgb(0,0,239)"/><rect x="968" y="689.3" width="45" height="12.1" fill="rgb(0,0,255)"/><rect x="968" y="678.2" width="45" height="12.1" fill="rgb(0,16,255)"/><rect x="968" y="667" width="45" height="12.1" fill="rgb(0,32,255)"/><rect x="968" y="655.9" width="45" height="12.1" fill="rgb(0,48,255)"/><rect x="968" y="644.7" width="45" height="12.1" fill="rgb(0,64,255)"/><rect x="968" y="633.6" width="45" height="12.1" fill="rgb(0,80,255)"/><rect x="968" y="622.4" width="45" height="12.1" fill="rgb(0,96,255)"/><rect x="968" y="611.3" width="45" height="12.1" fill="rgb(0,112,255)"/><rect x="968" y="600.1" width="45" height="12.1" fill="rgb(0,128,255)"/><rect x="968" y="589" width="45" height="12.1" fill="rgb(0,143,255)"/><rect x="968" y="577.8" width="45" height="12.1" fill="rgb(0,159,255)"/><rect x="968" y="566.7" width="45" height="12.1" fill="rgb(0,175,255)"/><rect x="968" y="555.5" width="45" height="12.1" fill="rgb(0,191,255)"/><rect x="968" y="544.4" width="45" height="12.1" fill="rgb(0,207,255)"/><rect x="968" y="533.2" width="45" height="12.1" fill="rgb(0,223,255)"/><rect x="968" y="522.1" width="45" height="12.1" fill="rgb(0,239,255)"/><rect x="968" y="510.9" width="45" height="12.1" fill="rgb(0,255,255)"/><rect x="968" y="499.8" width="45" height="12.1" fill="rgb(16,255,239)"/><rect x="968" y="488.6" width="45" height="12.1" fill="rgb(32,255,223)"/><rect x="968" y="477.5" width="45" height="12.1" fill="rgb(48,255,207)"/><rect x="968" y="466.3" width="45" height="12.1" fill="rgb(64,255,191)"/><rect x="968" y="455.2" width="45" height="12.1" fill="rgb(80,255,175)"/><rect x="968" y="444" width="45" height="12.1" fill="rgb(96,255,159)"/><rect x="968" y="432.9" width="45" height="12.1" fill="rgb(112,255,143)"/><rect x="968" y="421.8" width="45" height="12.1" fill="rgb(128,255,128)"/><rect x="968" y="410.6" width="45" height="12.1" fill="rgb(143,255,112)"/><rect x="968" y="399.5" width="45" height="12.1" fill="rgb(159,255,96)"/><rect x="968" y="388.3" width="45" height="12.1" fill="rgb(175,255,80)"/><rect x="968" y="377.2" width="45" height="12.1" fill="rgb(191,255,64)"/><rect x="968" y="366" width="45" height="12.1" fill="rgb(207,255,48)"/><rect x="968" y="354.9" width="45" height="12.1" fill="rgb(223,255,32)"/><rect x="968" y="343.7" width="45" height="12.1" fill="rgb(239,255,16)"/><rect x="968" y="332.6" width="45" height="12.1" fill="rgb(255,255,0)"/><rect x="968" y="321.4" width="45" height="12.1" fill="rgb(255,239,0)"/><rect x="968" y="310.3" width="45" height="12.1" fill="rgb(255,223,0)"/><rect x="968" y="299.1" width="45" height="12.1" fill="rgb(255,207,0)"/><rect x="968" y="288" width="45" height="12.1" fill="rgb(255,191,0)"/><rect x="968" y="276.8" width="45" height="12.1" fill="rgb(255,175,0)"/><rect x="968" y="265.7" width="45" height="12.1" fill="rgb(255,159,0)"/><rect x="968" y="254.5" width="45" height="12.1" fill="rgb(255,143,0)"/><rect x="968" y="243.4" width="45" height="12.1" fill="rgb(255,128,0)"/><rect x="968" y="232.2" width="45" height="12.1" fill="rgb(255,112,0)"/><rect x="968" y="221.1" width="45" height="12.1" fill="rgb(255,96,0)"/><rect x="968" y="209.9" width="45" height="12.1" fill="rgb(255,80,0)"/><rect x="968" y="198.8" width="45" height="12.1" fill="rgb(255,64,0)"/><rect x="968" y="187.6" width="45" height="12.1" fill="rgb(255,48,0)"/><rect x="968" y="176.5" width="45" height="12.1" fill="rgb(255,32,0)"/><rect x="968" y="165.3" width="45" height="12.1" fill="rgb(255,16,0)"/><rect x="968" y="154.2" width="45" height="12.1" fill="rgb(255,0,0)"/><rect x="968" y="143" width="45" height="12.1" fill="rgb(239,0,0)"/><rect x="968" y="131.9" width="45" height="12.1" fill="rgb(223,0,0)"/><rect x="968" y="120.7" width="45" height="12.1" fill="rgb(207,0,0)"/><rect x="968" y="109.6" width="45" height="12.1" fill="rgb(191,0,0)"/><rect x="968" y="98.4" width="45" height="12.1" fill="rgb(175,0,0)"/><rect x="968" y="87.3" width="45" height="12.1" fill="rgb(159,0,0)"/><rect x="968" y="76.1" width="45" height="12.1" fill="rgb(143,0,0)"/><rect x="968" y="65" width="45" height="12.1" fill="rgb(128,0,0)"/></g>
<rect x="968.5" y="64.5" width="44" height="714" fill="none" stroke="#262626" stroke-width="0.8"/>
<rect x="135" y="66" width="803" height="7.7" fill="#00009f" opacity="0.75"/>
<path d="M1004.5 747.5H1013" stroke="#262626" stroke-width="1"/><text class="tk" x="1023.3" y="757.9">5.6</text>
<path d="M1004.5 685.4H1013" stroke="#262626" stroke-width="1"/><text class="tk" x="1023.3" y="695.8">5.8</text>
<path d="M1004.5 623.4H1013" stroke="#262626" stroke-width="1"/><text class="tk" x="1023.3" y="633.8">6</text>
<path d="M1004.5 561.3H1013" stroke="#262626" stroke-width="1"/><text class="tk" x="1023.3" y="571.7">6.2</text>
<path d="M1004.5 499.3H1013" stroke="#262626" stroke-width="1"/><text class="tk" x="1023.3" y="509.7">6.4</text>
<path d="M1004.5 437.3H1013" stroke="#262626" stroke-width="1"/><text class="tk" x="1023.3" y="447.7">6.6</text>
<path d="M1004.5 375.2H1013" stroke="#262626" stroke-width="1"/><text class="tk" x="1023.3" y="385.6">6.8</text>
<path d="M1004.5 313.2H1013" stroke="#262626" stroke-width="1"/><text class="tk" x="1023.3" y="323.6">7</text>
<path d="M1004.5 251.1H1013" stroke="#262626" stroke-width="1"/><text class="tk" x="1023.3" y="261.5">7.2</text>
<path d="M1004.5 189.1H1013" stroke="#262626" stroke-width="1"/><text class="tk" x="1023.3" y="199.5">7.4</text>
<path d="M1004.5 127H1013" stroke="#262626" stroke-width="1"/><text class="tk" x="1023.3" y="137.4">7.6</text>
</svg>
</body></html>
